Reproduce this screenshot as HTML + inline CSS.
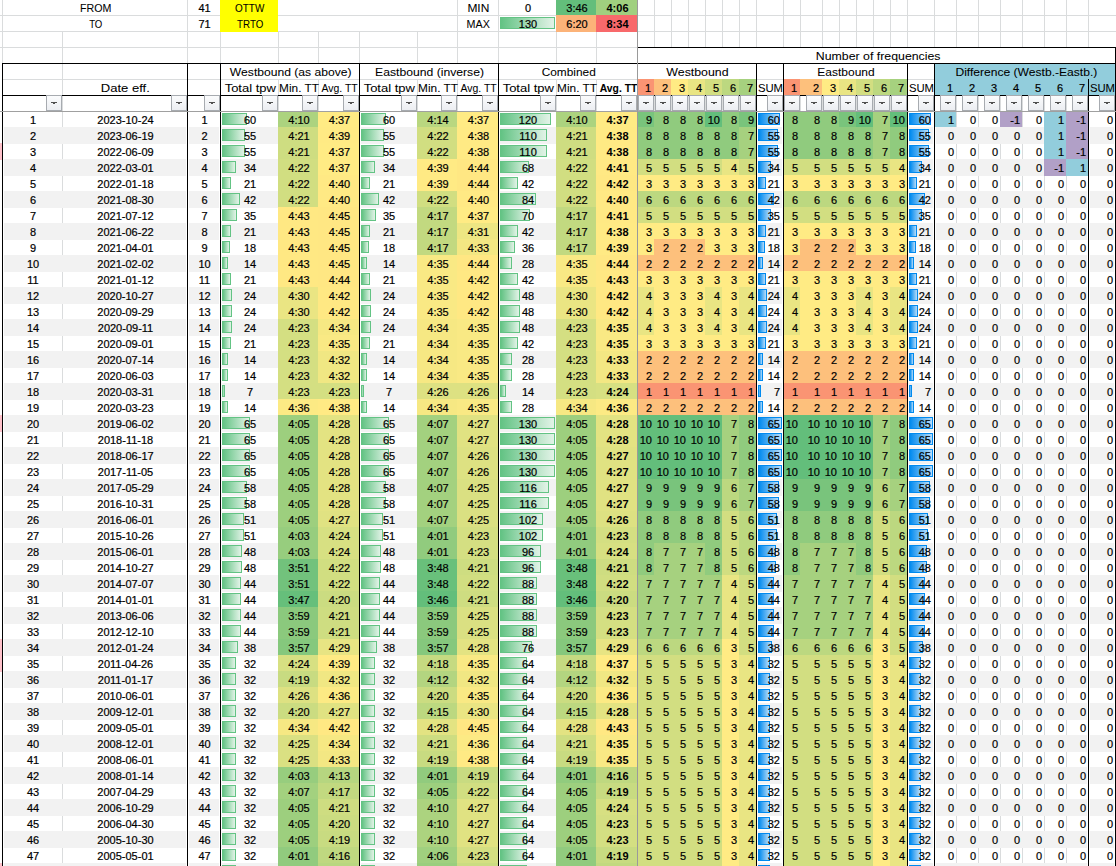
<!DOCTYPE html>
<html><head><meta charset="utf-8"><style>
html,body{margin:0;padding:0}
body{width:1116px;height:866px;overflow:hidden;position:relative;background:#fff;font-family:"Liberation Sans",sans-serif;font-size:11px;color:#000;-webkit-text-stroke:0.2px #000}
u{position:absolute;display:block}
.w{position:absolute;left:0;width:1116px;height:16px}
.w i{position:absolute;top:0;height:17px;line-height:19px;text-align:center;white-space:nowrap;font-style:normal;padding-left:2px;box-sizing:border-box}
.w i.rt{text-align:right;padding-right:2px;padding-left:0;box-sizing:border-box}
.w i.rt3{text-align:right;padding-right:3px;padding-left:0;box-sizing:border-box}
.w i.rtw{text-align:right;padding-right:0px;padding-left:0;box-sizing:border-box}
.w i.rtw s{transform-origin:100% 50%}
.bd{font-weight:bold;-webkit-text-stroke:0}
.k0{background:#f2f2f2}
.k1{background:linear-gradient(90deg,#fff 2px,#f2f2f2 2px)}
.k2{background:linear-gradient(90deg,#f2f2f2 calc(100% - 1px),#fff 0)}
.k3{background:linear-gradient(90deg,#fff 2px,#f2f2f2 2px,#f2f2f2 calc(100% - 1px),#fff 0)}
.w s{position:relative;text-decoration:none}
.w s.wd{display:inline-block;font-size:11.3px;transform-origin:50% 50%;-webkit-text-stroke:0.05px #000}
.w b{position:absolute;left:2px;top:2px;height:12px;box-sizing:border-box}
.w b.g{border:1px solid #63c384;background:linear-gradient(90deg,#63c384,#e2f3e7)}
.w b.bl{border:1px solid #008aef;background:linear-gradient(90deg,#008aef,#b8dcf8)}
p{position:absolute;margin:0;top:95px;width:16px;height:16px;box-sizing:border-box;border:1px solid #a7abb0;background:linear-gradient(#fbfcfd,#eceef2)}
p em{position:absolute;left:4px;top:6px;width:6px;height:1px;background:#505050}
p em:after{content:"";position:absolute;left:2px;top:1px;width:2px;height:1px;background:#505050}
.A{left:2px;width:60px}.B{left:62px;width:125px}.C{left:187px;width:33px}.D{left:220px;width:58px}.E{left:278px;width:40px}.F{left:318px;width:41px}.G{left:359px;width:58px}.H{left:417px;width:40px}.I{left:457px;width:41px}.J{left:498px;width:58px}.K{left:556px;width:40px}.L{left:596px;width:41px}.M{left:637px;width:17px}.N{left:654px;width:17px}.O{left:671px;width:17px}.P{left:688px;width:17px}.Q{left:705px;width:17px}.R{left:722px;width:17px}.S{left:739px;width:17px}.T{left:756px;width:27px}.U{left:783px;width:17px}.V{left:800px;width:22px}.W{left:822px;width:17px}.X{left:839px;width:17px}.Y{left:856px;width:17px}.Z{left:873px;width:17px}.AA{left:890px;width:17px}.AB{left:907px;width:27px}.AC{left:934px;width:22px}.AD{left:956px;width:22px}.AE{left:978px;width:22px}.AF{left:1000px;width:22px}.AG{left:1022px;width:22px}.AH{left:1044px;width:22px}.AI{left:1066px;width:22px}.AJ{left:1088px;width:27px}
</style></head><body>
<u style="left:0px;top:15px;width:1116px;height:1px;background:#dadcdd"></u><u style="left:0px;top:31px;width:1116px;height:1px;background:#dadcdd"></u><u style="left:0px;top:47px;width:1116px;height:1px;background:#dadcdd"></u><u style="left:0px;top:47px;width:637px;height:1px;background:#dadcdd"></u><u style="left:2px;top:0px;width:1px;height:31px;background:#dadcdd"></u><u style="left:187px;top:0px;width:1px;height:31px;background:#dadcdd"></u><u style="left:220px;top:0px;width:1px;height:31px;background:#dadcdd"></u><u style="left:457px;top:0px;width:1px;height:31px;background:#dadcdd"></u><u style="left:498px;top:0px;width:1px;height:31px;background:#dadcdd"></u><u style="left:556px;top:0px;width:1px;height:31px;background:#dadcdd"></u><u style="left:596px;top:0px;width:1px;height:31px;background:#dadcdd"></u><u style="left:654px;top:0px;width:1px;height:31px;background:#dadcdd"></u><u style="left:671px;top:0px;width:1px;height:31px;background:#dadcdd"></u><u style="left:688px;top:0px;width:1px;height:31px;background:#dadcdd"></u><u style="left:705px;top:0px;width:1px;height:31px;background:#dadcdd"></u><u style="left:722px;top:0px;width:1px;height:31px;background:#dadcdd"></u><u style="left:739px;top:0px;width:1px;height:31px;background:#dadcdd"></u><u style="left:756px;top:0px;width:1px;height:31px;background:#dadcdd"></u><u style="left:783px;top:0px;width:1px;height:31px;background:#dadcdd"></u><u style="left:800px;top:0px;width:1px;height:31px;background:#dadcdd"></u><u style="left:822px;top:0px;width:1px;height:31px;background:#dadcdd"></u><u style="left:839px;top:0px;width:1px;height:31px;background:#dadcdd"></u><u style="left:856px;top:0px;width:1px;height:31px;background:#dadcdd"></u><u style="left:873px;top:0px;width:1px;height:31px;background:#dadcdd"></u><u style="left:890px;top:0px;width:1px;height:31px;background:#dadcdd"></u><u style="left:907px;top:0px;width:1px;height:31px;background:#dadcdd"></u><u style="left:934px;top:0px;width:1px;height:31px;background:#dadcdd"></u><u style="left:956px;top:0px;width:1px;height:31px;background:#dadcdd"></u><u style="left:978px;top:0px;width:1px;height:31px;background:#dadcdd"></u><u style="left:1000px;top:0px;width:1px;height:31px;background:#dadcdd"></u><u style="left:1022px;top:0px;width:1px;height:31px;background:#dadcdd"></u><u style="left:1044px;top:0px;width:1px;height:31px;background:#dadcdd"></u><u style="left:1066px;top:0px;width:1px;height:31px;background:#dadcdd"></u><u style="left:1088px;top:0px;width:1px;height:31px;background:#dadcdd"></u><u style="left:2px;top:31px;width:1px;height:32px;background:#dadcdd"></u><u style="left:62px;top:31px;width:1px;height:32px;background:#dadcdd"></u><u style="left:187px;top:31px;width:1px;height:32px;background:#dadcdd"></u><u style="left:220px;top:31px;width:1px;height:32px;background:#dadcdd"></u><u style="left:278px;top:31px;width:1px;height:32px;background:#dadcdd"></u><u style="left:318px;top:31px;width:1px;height:32px;background:#dadcdd"></u><u style="left:359px;top:31px;width:1px;height:32px;background:#dadcdd"></u><u style="left:417px;top:31px;width:1px;height:32px;background:#dadcdd"></u><u style="left:457px;top:31px;width:1px;height:32px;background:#dadcdd"></u><u style="left:498px;top:31px;width:1px;height:32px;background:#dadcdd"></u><u style="left:556px;top:31px;width:1px;height:32px;background:#dadcdd"></u><u style="left:596px;top:31px;width:1px;height:32px;background:#dadcdd"></u><u style="left:637px;top:31px;width:1px;height:32px;background:#dadcdd"></u><u style="left:654px;top:31px;width:1px;height:16px;background:#dadcdd"></u><u style="left:671px;top:31px;width:1px;height:16px;background:#dadcdd"></u><u style="left:688px;top:31px;width:1px;height:16px;background:#dadcdd"></u><u style="left:705px;top:31px;width:1px;height:16px;background:#dadcdd"></u><u style="left:722px;top:31px;width:1px;height:16px;background:#dadcdd"></u><u style="left:739px;top:31px;width:1px;height:16px;background:#dadcdd"></u><u style="left:756px;top:31px;width:1px;height:16px;background:#dadcdd"></u><u style="left:783px;top:31px;width:1px;height:16px;background:#dadcdd"></u><u style="left:800px;top:31px;width:1px;height:16px;background:#dadcdd"></u><u style="left:822px;top:31px;width:1px;height:16px;background:#dadcdd"></u><u style="left:839px;top:31px;width:1px;height:16px;background:#dadcdd"></u><u style="left:856px;top:31px;width:1px;height:16px;background:#dadcdd"></u><u style="left:873px;top:31px;width:1px;height:16px;background:#dadcdd"></u><u style="left:890px;top:31px;width:1px;height:16px;background:#dadcdd"></u><u style="left:907px;top:31px;width:1px;height:16px;background:#dadcdd"></u><u style="left:934px;top:31px;width:1px;height:16px;background:#dadcdd"></u><u style="left:956px;top:31px;width:1px;height:16px;background:#dadcdd"></u><u style="left:978px;top:31px;width:1px;height:16px;background:#dadcdd"></u><u style="left:1000px;top:31px;width:1px;height:16px;background:#dadcdd"></u><u style="left:1022px;top:31px;width:1px;height:16px;background:#dadcdd"></u><u style="left:1044px;top:31px;width:1px;height:16px;background:#dadcdd"></u><u style="left:1066px;top:31px;width:1px;height:16px;background:#dadcdd"></u><u style="left:1088px;top:31px;width:1px;height:16px;background:#dadcdd"></u><u style="left:3px;top:79px;width:1113px;height:1px;background:#dadcdd"></u><u style="left:2px;top:63px;width:1px;height:803px;background:#dadcdd"></u><u style="left:62px;top:63px;width:1px;height:803px;background:#dadcdd"></u><u style="left:187px;top:63px;width:1px;height:803px;background:#dadcdd"></u><u style="left:220px;top:63px;width:1px;height:803px;background:#dadcdd"></u><u style="left:278px;top:63px;width:1px;height:803px;background:#dadcdd"></u><u style="left:318px;top:63px;width:1px;height:803px;background:#dadcdd"></u><u style="left:359px;top:63px;width:1px;height:803px;background:#dadcdd"></u><u style="left:417px;top:63px;width:1px;height:803px;background:#dadcdd"></u><u style="left:457px;top:63px;width:1px;height:803px;background:#dadcdd"></u><u style="left:498px;top:63px;width:1px;height:803px;background:#dadcdd"></u><u style="left:556px;top:63px;width:1px;height:803px;background:#dadcdd"></u><u style="left:596px;top:63px;width:1px;height:803px;background:#dadcdd"></u><u style="left:637px;top:63px;width:1px;height:803px;background:#dadcdd"></u><u style="left:654px;top:63px;width:1px;height:803px;background:#dadcdd"></u><u style="left:671px;top:63px;width:1px;height:803px;background:#dadcdd"></u><u style="left:688px;top:63px;width:1px;height:803px;background:#dadcdd"></u><u style="left:705px;top:63px;width:1px;height:803px;background:#dadcdd"></u><u style="left:722px;top:63px;width:1px;height:803px;background:#dadcdd"></u><u style="left:739px;top:63px;width:1px;height:803px;background:#dadcdd"></u><u style="left:756px;top:63px;width:1px;height:803px;background:#dadcdd"></u><u style="left:783px;top:63px;width:1px;height:803px;background:#dadcdd"></u><u style="left:800px;top:63px;width:1px;height:803px;background:#dadcdd"></u><u style="left:822px;top:63px;width:1px;height:803px;background:#dadcdd"></u><u style="left:839px;top:63px;width:1px;height:803px;background:#dadcdd"></u><u style="left:856px;top:63px;width:1px;height:803px;background:#dadcdd"></u><u style="left:873px;top:63px;width:1px;height:803px;background:#dadcdd"></u><u style="left:890px;top:63px;width:1px;height:803px;background:#dadcdd"></u><u style="left:907px;top:63px;width:1px;height:803px;background:#dadcdd"></u><u style="left:934px;top:63px;width:1px;height:803px;background:#dadcdd"></u><u style="left:956px;top:63px;width:1px;height:803px;background:#dadcdd"></u><u style="left:978px;top:63px;width:1px;height:803px;background:#dadcdd"></u><u style="left:1000px;top:63px;width:1px;height:803px;background:#dadcdd"></u><u style="left:1022px;top:63px;width:1px;height:803px;background:#dadcdd"></u><u style="left:1044px;top:63px;width:1px;height:803px;background:#dadcdd"></u><u style="left:1066px;top:63px;width:1px;height:803px;background:#dadcdd"></u><u style="left:1088px;top:63px;width:1px;height:803px;background:#dadcdd"></u><u style="left:1115px;top:63px;width:1px;height:803px;background:#dadcdd"></u><u style="left:220px;top:-1px;width:58px;height:33px;background:#ffff00"></u><u style="left:556px;top:-1px;width:40px;height:17px;background:#63be7b"></u><u style="left:556px;top:15px;width:40px;height:17px;background:#fcb379"></u><u style="left:596px;top:-1px;width:41px;height:17px;background:#a0d07f"></u><u style="left:596px;top:15px;width:41px;height:17px;background:#f8696b"></u><u style="left:638px;top:48px;width:477px;height:15px;background:#ffffff"></u><u style="left:220px;top:64px;width:138px;height:15px;background:#ffffff"></u><u style="left:359px;top:64px;width:138px;height:15px;background:#ffffff"></u><u style="left:498px;top:64px;width:138px;height:15px;background:#ffffff"></u><u style="left:637px;top:64px;width:118px;height:15px;background:#ffffff"></u><u style="left:783px;top:64px;width:123px;height:15px;background:#ffffff"></u><u style="left:934px;top:64px;width:181px;height:15px;background:#92cddc"></u><u style="left:637px;top:79px;width:17px;height:17px;background:#fa9473"></u><u style="left:654px;top:79px;width:17px;height:17px;background:#fdc07c"></u><u style="left:671px;top:79px;width:17px;height:17px;background:#ffeb84"></u><u style="left:688px;top:79px;width:17px;height:17px;background:#e9e583"></u><u style="left:705px;top:79px;width:17px;height:17px;background:#d2de81"></u><u style="left:722px;top:79px;width:17px;height:17px;background:#bcd880"></u><u style="left:739px;top:79px;width:17px;height:17px;background:#a6d17f"></u><u style="left:783px;top:79px;width:17px;height:17px;background:#fa9473"></u><u style="left:800px;top:79px;width:22px;height:17px;background:#fdc07c"></u><u style="left:822px;top:79px;width:17px;height:17px;background:#ffeb84"></u><u style="left:839px;top:79px;width:17px;height:17px;background:#e9e583"></u><u style="left:856px;top:79px;width:17px;height:17px;background:#d2de81"></u><u style="left:873px;top:79px;width:17px;height:17px;background:#bcd880"></u><u style="left:890px;top:79px;width:17px;height:17px;background:#a6d17f"></u><u style="left:934px;top:79px;width:181px;height:16px;background:#92cddc"></u>
<div class="w" style="top:111px"><i class="A">1</i><i class="B">2023-10-24</i><i class="C">1</i><i class="D"><b class="g" style="width:25px"></b><s>60</s></i><i class="E" style="background:#acd37f">4:10</i><i class="F" style="background:#ffeb84">4:37</i><i class="G"><b class="g" style="width:25px"></b><s>60</s></i><i class="H" style="background:#b9d780">4:14</i><i class="I" style="background:#ffeb84">4:37</i><i class="J"><b class="g" style="width:51px"></b><s>120</s></i><i class="K" style="background:#acd37f">4:10</i><i class="L bd" style="background:#ffeb84">4:37</i><i class="M rt" style="background:#79c47c">9</i><i class="N rt" style="background:#90cb7e">8</i><i class="O rt" style="background:#90cb7e">8</i><i class="P rt" style="background:#90cb7e">8</i><i class="Q rt" style="background:#63be7b">10</i><i class="R rt" style="background:#90cb7e">8</i><i class="S rt" style="background:#79c47c">9</i><i class="T rt3"><b class="bl" style="width:22px"></b><s>60</s></i><i class="U rt" style="background:#90cb7e">8</i><i class="V rt" style="background:#90cb7e">8</i><i class="W rt" style="background:#90cb7e">8</i><i class="X rt" style="background:#79c47c">9</i><i class="Y rt" style="background:#63be7b">10</i><i class="Z rt" style="background:#a6d17f">7</i><i class="AA rt" style="background:#63be7b">10</i><i class="AB rt3"><b class="bl" style="width:22px"></b><s>60</s></i><i class="AC rt" style="background:#92cddc">1</i><i class="AD rt">0</i><i class="AE rt">0</i><i class="AF rt" style="background:#b1a0c7">-1</i><i class="AG rt">0</i><i class="AH rt" style="background:#92cddc">1</i><i class="AI rt" style="background:#b1a0c7">-1</i><i class="AJ rt">0</i></div><div class="w" style="top:127px"><i class="A k1">2</i><i class="B k2">2023-06-19</i><i class="C k3">2</i><i class="D k1"><b class="g" style="width:23px"></b><s>55</s></i><i class="E" style="background:#cedd81">4:21</i><i class="F" style="background:#ffea84">4:39</i><i class="G k1"><b class="g" style="width:23px"></b><s>55</s></i><i class="H" style="background:#d1de81">4:22</i><i class="I" style="background:#ffea84">4:38</i><i class="J k1"><b class="g" style="width:47px"></b><s>110</s></i><i class="K" style="background:#cedd81">4:21</i><i class="L bd" style="background:#ffea84">4:38</i><i class="M rt" style="background:#90cb7e">8</i><i class="N rt" style="background:#90cb7e">8</i><i class="O rt" style="background:#90cb7e">8</i><i class="P rt" style="background:#90cb7e">8</i><i class="Q rt" style="background:#90cb7e">8</i><i class="R rt" style="background:#90cb7e">8</i><i class="S rt" style="background:#a6d17f">7</i><i class="T rt3 k3"><b class="bl" style="width:20px"></b><s>55</s></i><i class="U rt" style="background:#90cb7e">8</i><i class="V rt" style="background:#90cb7e">8</i><i class="W rt" style="background:#90cb7e">8</i><i class="X rt" style="background:#90cb7e">8</i><i class="Y rt" style="background:#90cb7e">8</i><i class="Z rt" style="background:#a6d17f">7</i><i class="AA rt" style="background:#90cb7e">8</i><i class="AB rt3 k3"><b class="bl" style="width:20px"></b><s>55</s></i><i class="AC rt k1">0</i><i class="AD rt k0">0</i><i class="AE rt k0">0</i><i class="AF rt k0">0</i><i class="AG rt k0">0</i><i class="AH rt" style="background:#92cddc">1</i><i class="AI rt" style="background:#b1a0c7">-1</i><i class="AJ rt k3">0</i></div><div class="w" style="top:143px"><i class="A">3</i><i class="B">2022-06-09</i><i class="C">3</i><i class="D"><b class="g" style="width:23px"></b><s>55</s></i><i class="E" style="background:#cedd81">4:21</i><i class="F" style="background:#ffeb84">4:37</i><i class="G"><b class="g" style="width:23px"></b><s>55</s></i><i class="H" style="background:#d1de81">4:22</i><i class="I" style="background:#ffea84">4:38</i><i class="J"><b class="g" style="width:47px"></b><s>110</s></i><i class="K" style="background:#cedd81">4:21</i><i class="L bd" style="background:#ffea84">4:38</i><i class="M rt" style="background:#90cb7e">8</i><i class="N rt" style="background:#90cb7e">8</i><i class="O rt" style="background:#90cb7e">8</i><i class="P rt" style="background:#90cb7e">8</i><i class="Q rt" style="background:#90cb7e">8</i><i class="R rt" style="background:#90cb7e">8</i><i class="S rt" style="background:#a6d17f">7</i><i class="T rt3"><b class="bl" style="width:20px"></b><s>55</s></i><i class="U rt" style="background:#90cb7e">8</i><i class="V rt" style="background:#90cb7e">8</i><i class="W rt" style="background:#90cb7e">8</i><i class="X rt" style="background:#90cb7e">8</i><i class="Y rt" style="background:#90cb7e">8</i><i class="Z rt" style="background:#a6d17f">7</i><i class="AA rt" style="background:#90cb7e">8</i><i class="AB rt3"><b class="bl" style="width:20px"></b><s>55</s></i><i class="AC rt">0</i><i class="AD rt">0</i><i class="AE rt">0</i><i class="AF rt">0</i><i class="AG rt">0</i><i class="AH rt" style="background:#92cddc">1</i><i class="AI rt" style="background:#b1a0c7">-1</i><i class="AJ rt">0</i></div><div class="w" style="top:159px"><i class="A k1">4</i><i class="B k2">2022-03-01</i><i class="C k3">4</i><i class="D k1"><b class="g" style="width:14px"></b><s>34</s></i><i class="E" style="background:#d1de81">4:22</i><i class="F" style="background:#ffeb84">4:37</i><i class="G k1"><b class="g" style="width:14px"></b><s>34</s></i><i class="H" style="background:#ffea84">4:39</i><i class="I" style="background:#ffe783">4:44</i><i class="J k1"><b class="g" style="width:29px"></b><s>68</s></i><i class="K" style="background:#d1de81">4:22</i><i class="L bd" style="background:#ffe984">4:41</i><i class="M rt" style="background:#d2de81">5</i><i class="N rt" style="background:#d2de81">5</i><i class="O rt" style="background:#d2de81">5</i><i class="P rt" style="background:#d2de81">5</i><i class="Q rt" style="background:#d2de81">5</i><i class="R rt" style="background:#e9e583">4</i><i class="S rt" style="background:#d2de81">5</i><i class="T rt3 k3"><b class="bl" style="width:13px"></b><s>34</s></i><i class="U rt" style="background:#d2de81">5</i><i class="V rt" style="background:#d2de81">5</i><i class="W rt" style="background:#d2de81">5</i><i class="X rt" style="background:#d2de81">5</i><i class="Y rt" style="background:#d2de81">5</i><i class="Z rt" style="background:#d2de81">5</i><i class="AA rt" style="background:#e9e583">4</i><i class="AB rt3 k3"><b class="bl" style="width:13px"></b><s>34</s></i><i class="AC rt k1">0</i><i class="AD rt k0">0</i><i class="AE rt k0">0</i><i class="AF rt k0">0</i><i class="AG rt k0">0</i><i class="AH rt" style="background:#b1a0c7">-1</i><i class="AI rt" style="background:#92cddc">1</i><i class="AJ rt k3">0</i></div><div class="w" style="top:175px"><i class="A">5</i><i class="B">2022-01-18</i><i class="C">5</i><i class="D"><b class="g" style="width:9px"></b><s>21</s></i><i class="E" style="background:#d1de81">4:22</i><i class="F" style="background:#ffe984">4:40</i><i class="G"><b class="g" style="width:9px"></b><s>21</s></i><i class="H" style="background:#ffea84">4:39</i><i class="I" style="background:#ffe783">4:44</i><i class="J"><b class="g" style="width:18px"></b><s>42</s></i><i class="K" style="background:#d1de81">4:22</i><i class="L bd" style="background:#ffe883">4:42</i><i class="M rt" style="background:#ffeb84">3</i><i class="N rt" style="background:#ffeb84">3</i><i class="O rt" style="background:#ffeb84">3</i><i class="P rt" style="background:#ffeb84">3</i><i class="Q rt" style="background:#ffeb84">3</i><i class="R rt" style="background:#ffeb84">3</i><i class="S rt" style="background:#ffeb84">3</i><i class="T rt3"><b class="bl" style="width:8px"></b><s>21</s></i><i class="U rt" style="background:#ffeb84">3</i><i class="V rt" style="background:#ffeb84">3</i><i class="W rt" style="background:#ffeb84">3</i><i class="X rt" style="background:#ffeb84">3</i><i class="Y rt" style="background:#ffeb84">3</i><i class="Z rt" style="background:#ffeb84">3</i><i class="AA rt" style="background:#ffeb84">3</i><i class="AB rt3"><b class="bl" style="width:8px"></b><s>21</s></i><i class="AC rt">0</i><i class="AD rt">0</i><i class="AE rt">0</i><i class="AF rt">0</i><i class="AG rt">0</i><i class="AH rt">0</i><i class="AI rt">0</i><i class="AJ rt">0</i></div><div class="w" style="top:191px"><i class="A k1">6</i><i class="B k2">2021-08-30</i><i class="C k3">6</i><i class="D k1"><b class="g" style="width:18px"></b><s>42</s></i><i class="E" style="background:#d1de81">4:22</i><i class="F" style="background:#ffe984">4:40</i><i class="G k1"><b class="g" style="width:18px"></b><s>42</s></i><i class="H" style="background:#d1de81">4:22</i><i class="I" style="background:#ffe984">4:40</i><i class="J k1"><b class="g" style="width:36px"></b><s>84</s></i><i class="K" style="background:#d1de81">4:22</i><i class="L bd" style="background:#ffe984">4:40</i><i class="M rt" style="background:#bcd880">6</i><i class="N rt" style="background:#bcd880">6</i><i class="O rt" style="background:#bcd880">6</i><i class="P rt" style="background:#bcd880">6</i><i class="Q rt" style="background:#bcd880">6</i><i class="R rt" style="background:#bcd880">6</i><i class="S rt" style="background:#bcd880">6</i><i class="T rt3 k3"><b class="bl" style="width:16px"></b><s>42</s></i><i class="U rt" style="background:#bcd880">6</i><i class="V rt" style="background:#bcd880">6</i><i class="W rt" style="background:#bcd880">6</i><i class="X rt" style="background:#bcd880">6</i><i class="Y rt" style="background:#bcd880">6</i><i class="Z rt" style="background:#bcd880">6</i><i class="AA rt" style="background:#bcd880">6</i><i class="AB rt3 k3"><b class="bl" style="width:16px"></b><s>42</s></i><i class="AC rt k1">0</i><i class="AD rt k0">0</i><i class="AE rt k0">0</i><i class="AF rt k0">0</i><i class="AG rt k0">0</i><i class="AH rt k0">0</i><i class="AI rt k2">0</i><i class="AJ rt k3">0</i></div><div class="w" style="top:207px"><i class="A">7</i><i class="B">2021-07-12</i><i class="C">7</i><i class="D"><b class="g" style="width:15px"></b><s>35</s></i><i class="E" style="background:#ffe883">4:43</i><i class="F" style="background:#ffe783">4:45</i><i class="G"><b class="g" style="width:15px"></b><s>35</s></i><i class="H" style="background:#c2d980">4:17</i><i class="I" style="background:#ffeb84">4:37</i><i class="J"><b class="g" style="width:30px"></b><s>70</s></i><i class="K" style="background:#c2d980">4:17</i><i class="L bd" style="background:#ffe984">4:41</i><i class="M rt" style="background:#d2de81">5</i><i class="N rt" style="background:#d2de81">5</i><i class="O rt" style="background:#d2de81">5</i><i class="P rt" style="background:#d2de81">5</i><i class="Q rt" style="background:#d2de81">5</i><i class="R rt" style="background:#d2de81">5</i><i class="S rt" style="background:#d2de81">5</i><i class="T rt3"><b class="bl" style="width:13px"></b><s>35</s></i><i class="U rt" style="background:#d2de81">5</i><i class="V rt" style="background:#d2de81">5</i><i class="W rt" style="background:#d2de81">5</i><i class="X rt" style="background:#d2de81">5</i><i class="Y rt" style="background:#d2de81">5</i><i class="Z rt" style="background:#d2de81">5</i><i class="AA rt" style="background:#d2de81">5</i><i class="AB rt3"><b class="bl" style="width:13px"></b><s>35</s></i><i class="AC rt">0</i><i class="AD rt">0</i><i class="AE rt">0</i><i class="AF rt">0</i><i class="AG rt">0</i><i class="AH rt">0</i><i class="AI rt">0</i><i class="AJ rt">0</i></div><div class="w" style="top:223px"><i class="A k1">8</i><i class="B k2">2021-06-22</i><i class="C k3">8</i><i class="D k1"><b class="g" style="width:9px"></b><s>21</s></i><i class="E" style="background:#ffe883">4:43</i><i class="F" style="background:#ffe783">4:45</i><i class="G k1"><b class="g" style="width:9px"></b><s>21</s></i><i class="H" style="background:#c2d980">4:17</i><i class="I" style="background:#ede683">4:31</i><i class="J k1"><b class="g" style="width:18px"></b><s>42</s></i><i class="K" style="background:#c2d980">4:17</i><i class="L bd" style="background:#ffea84">4:38</i><i class="M rt" style="background:#ffeb84">3</i><i class="N rt" style="background:#ffeb84">3</i><i class="O rt" style="background:#ffeb84">3</i><i class="P rt" style="background:#ffeb84">3</i><i class="Q rt" style="background:#ffeb84">3</i><i class="R rt" style="background:#ffeb84">3</i><i class="S rt" style="background:#ffeb84">3</i><i class="T rt3 k3"><b class="bl" style="width:8px"></b><s>21</s></i><i class="U rt" style="background:#ffeb84">3</i><i class="V rt" style="background:#ffeb84">3</i><i class="W rt" style="background:#ffeb84">3</i><i class="X rt" style="background:#ffeb84">3</i><i class="Y rt" style="background:#ffeb84">3</i><i class="Z rt" style="background:#ffeb84">3</i><i class="AA rt" style="background:#ffeb84">3</i><i class="AB rt3 k3"><b class="bl" style="width:8px"></b><s>21</s></i><i class="AC rt k1">0</i><i class="AD rt k0">0</i><i class="AE rt k0">0</i><i class="AF rt k0">0</i><i class="AG rt k0">0</i><i class="AH rt k0">0</i><i class="AI rt k2">0</i><i class="AJ rt k3">0</i></div><div class="w" style="top:239px"><i class="A">9</i><i class="B">2021-04-01</i><i class="C">9</i><i class="D"><b class="g" style="width:8px"></b><s>18</s></i><i class="E" style="background:#ffe883">4:43</i><i class="F" style="background:#ffe783">4:45</i><i class="G"><b class="g" style="width:8px"></b><s>18</s></i><i class="H" style="background:#c2d980">4:17</i><i class="I" style="background:#f3e783">4:33</i><i class="J"><b class="g" style="width:15px"></b><s>36</s></i><i class="K" style="background:#c2d980">4:17</i><i class="L bd" style="background:#ffea84">4:39</i><i class="M rt" style="background:#ffeb84">3</i><i class="N rt" style="background:#fdc07c">2</i><i class="O rt" style="background:#fdc07c">2</i><i class="P rt" style="background:#fdc07c">2</i><i class="Q rt" style="background:#ffeb84">3</i><i class="R rt" style="background:#ffeb84">3</i><i class="S rt" style="background:#ffeb84">3</i><i class="T rt3"><b class="bl" style="width:7px"></b><s>18</s></i><i class="U rt" style="background:#ffeb84">3</i><i class="V rt" style="background:#fdc07c">2</i><i class="W rt" style="background:#fdc07c">2</i><i class="X rt" style="background:#fdc07c">2</i><i class="Y rt" style="background:#ffeb84">3</i><i class="Z rt" style="background:#ffeb84">3</i><i class="AA rt" style="background:#ffeb84">3</i><i class="AB rt3"><b class="bl" style="width:7px"></b><s>18</s></i><i class="AC rt">0</i><i class="AD rt">0</i><i class="AE rt">0</i><i class="AF rt">0</i><i class="AG rt">0</i><i class="AH rt">0</i><i class="AI rt">0</i><i class="AJ rt">0</i></div><div class="w" style="top:255px"><i class="A k1">10</i><i class="B k2">2021-02-02</i><i class="C k3">10</i><i class="D k1"><b class="g" style="width:6px"></b><s>14</s></i><i class="E" style="background:#ffe883">4:43</i><i class="F" style="background:#ffe783">4:45</i><i class="G k1"><b class="g" style="width:6px"></b><s>14</s></i><i class="H" style="background:#f9e984">4:35</i><i class="I" style="background:#ffe783">4:44</i><i class="J k1"><b class="g" style="width:12px"></b><s>28</s></i><i class="K" style="background:#f9e984">4:35</i><i class="L bd" style="background:#ffe783">4:44</i><i class="M rt" style="background:#fdc07c">2</i><i class="N rt" style="background:#fdc07c">2</i><i class="O rt" style="background:#fdc07c">2</i><i class="P rt" style="background:#fdc07c">2</i><i class="Q rt" style="background:#fdc07c">2</i><i class="R rt" style="background:#fdc07c">2</i><i class="S rt" style="background:#fdc07c">2</i><i class="T rt3 k3"><b class="bl" style="width:5px"></b><s>14</s></i><i class="U rt" style="background:#fdc07c">2</i><i class="V rt" style="background:#fdc07c">2</i><i class="W rt" style="background:#fdc07c">2</i><i class="X rt" style="background:#fdc07c">2</i><i class="Y rt" style="background:#fdc07c">2</i><i class="Z rt" style="background:#fdc07c">2</i><i class="AA rt" style="background:#fdc07c">2</i><i class="AB rt3 k3"><b class="bl" style="width:5px"></b><s>14</s></i><i class="AC rt k1">0</i><i class="AD rt k0">0</i><i class="AE rt k0">0</i><i class="AF rt k0">0</i><i class="AG rt k0">0</i><i class="AH rt k0">0</i><i class="AI rt k2">0</i><i class="AJ rt k3">0</i></div><div class="w" style="top:271px"><i class="A">11</i><i class="B">2021-01-12</i><i class="C">11</i><i class="D"><b class="g" style="width:9px"></b><s>21</s></i><i class="E" style="background:#ffe883">4:43</i><i class="F" style="background:#ffe783">4:44</i><i class="G"><b class="g" style="width:9px"></b><s>21</s></i><i class="H" style="background:#f9e984">4:35</i><i class="I" style="background:#ffe883">4:42</i><i class="J"><b class="g" style="width:18px"></b><s>42</s></i><i class="K" style="background:#f9e984">4:35</i><i class="L bd" style="background:#ffe883">4:43</i><i class="M rt" style="background:#ffeb84">3</i><i class="N rt" style="background:#ffeb84">3</i><i class="O rt" style="background:#ffeb84">3</i><i class="P rt" style="background:#ffeb84">3</i><i class="Q rt" style="background:#ffeb84">3</i><i class="R rt" style="background:#ffeb84">3</i><i class="S rt" style="background:#ffeb84">3</i><i class="T rt3"><b class="bl" style="width:8px"></b><s>21</s></i><i class="U rt" style="background:#ffeb84">3</i><i class="V rt" style="background:#ffeb84">3</i><i class="W rt" style="background:#ffeb84">3</i><i class="X rt" style="background:#ffeb84">3</i><i class="Y rt" style="background:#ffeb84">3</i><i class="Z rt" style="background:#ffeb84">3</i><i class="AA rt" style="background:#ffeb84">3</i><i class="AB rt3"><b class="bl" style="width:8px"></b><s>21</s></i><i class="AC rt">0</i><i class="AD rt">0</i><i class="AE rt">0</i><i class="AF rt">0</i><i class="AG rt">0</i><i class="AH rt">0</i><i class="AI rt">0</i><i class="AJ rt">0</i></div><div class="w" style="top:287px"><i class="A k1">12</i><i class="B k2">2020-10-27</i><i class="C k3">12</i><i class="D k1"><b class="g" style="width:10px"></b><s>24</s></i><i class="E" style="background:#eae583">4:30</i><i class="F" style="background:#ffe883">4:42</i><i class="G k1"><b class="g" style="width:10px"></b><s>24</s></i><i class="H" style="background:#f9e984">4:35</i><i class="I" style="background:#ffe883">4:42</i><i class="J k1"><b class="g" style="width:20px"></b><s>48</s></i><i class="K" style="background:#eae583">4:30</i><i class="L bd" style="background:#ffe883">4:42</i><i class="M rt" style="background:#e9e583">4</i><i class="N rt" style="background:#ffeb84">3</i><i class="O rt" style="background:#ffeb84">3</i><i class="P rt" style="background:#ffeb84">3</i><i class="Q rt" style="background:#e9e583">4</i><i class="R rt" style="background:#ffeb84">3</i><i class="S rt" style="background:#e9e583">4</i><i class="T rt3 k3"><b class="bl" style="width:9px"></b><s>24</s></i><i class="U rt" style="background:#e9e583">4</i><i class="V rt" style="background:#ffeb84">3</i><i class="W rt" style="background:#ffeb84">3</i><i class="X rt" style="background:#ffeb84">3</i><i class="Y rt" style="background:#e9e583">4</i><i class="Z rt" style="background:#ffeb84">3</i><i class="AA rt" style="background:#e9e583">4</i><i class="AB rt3 k3"><b class="bl" style="width:9px"></b><s>24</s></i><i class="AC rt k1">0</i><i class="AD rt k0">0</i><i class="AE rt k0">0</i><i class="AF rt k0">0</i><i class="AG rt k0">0</i><i class="AH rt k0">0</i><i class="AI rt k2">0</i><i class="AJ rt k3">0</i></div><div class="w" style="top:303px"><i class="A">13</i><i class="B">2020-09-29</i><i class="C">13</i><i class="D"><b class="g" style="width:10px"></b><s>24</s></i><i class="E" style="background:#eae583">4:30</i><i class="F" style="background:#ffe883">4:42</i><i class="G"><b class="g" style="width:10px"></b><s>24</s></i><i class="H" style="background:#f9e984">4:35</i><i class="I" style="background:#ffe883">4:42</i><i class="J"><b class="g" style="width:20px"></b><s>48</s></i><i class="K" style="background:#eae583">4:30</i><i class="L bd" style="background:#ffe883">4:42</i><i class="M rt" style="background:#e9e583">4</i><i class="N rt" style="background:#ffeb84">3</i><i class="O rt" style="background:#ffeb84">3</i><i class="P rt" style="background:#ffeb84">3</i><i class="Q rt" style="background:#e9e583">4</i><i class="R rt" style="background:#ffeb84">3</i><i class="S rt" style="background:#e9e583">4</i><i class="T rt3"><b class="bl" style="width:9px"></b><s>24</s></i><i class="U rt" style="background:#e9e583">4</i><i class="V rt" style="background:#ffeb84">3</i><i class="W rt" style="background:#ffeb84">3</i><i class="X rt" style="background:#ffeb84">3</i><i class="Y rt" style="background:#e9e583">4</i><i class="Z rt" style="background:#ffeb84">3</i><i class="AA rt" style="background:#e9e583">4</i><i class="AB rt3"><b class="bl" style="width:9px"></b><s>24</s></i><i class="AC rt">0</i><i class="AD rt">0</i><i class="AE rt">0</i><i class="AF rt">0</i><i class="AG rt">0</i><i class="AH rt">0</i><i class="AI rt">0</i><i class="AJ rt">0</i></div><div class="w" style="top:319px"><i class="A k1">14</i><i class="B k2">2020-09-11</i><i class="C k3">14</i><i class="D k1"><b class="g" style="width:10px"></b><s>24</s></i><i class="E" style="background:#d4df82">4:23</i><i class="F" style="background:#f6e883">4:34</i><i class="G k1"><b class="g" style="width:10px"></b><s>24</s></i><i class="H" style="background:#f6e883">4:34</i><i class="I" style="background:#f9e984">4:35</i><i class="J k1"><b class="g" style="width:20px"></b><s>48</s></i><i class="K" style="background:#d4df82">4:23</i><i class="L bd" style="background:#f9e984">4:35</i><i class="M rt" style="background:#e9e583">4</i><i class="N rt" style="background:#ffeb84">3</i><i class="O rt" style="background:#ffeb84">3</i><i class="P rt" style="background:#ffeb84">3</i><i class="Q rt" style="background:#e9e583">4</i><i class="R rt" style="background:#ffeb84">3</i><i class="S rt" style="background:#e9e583">4</i><i class="T rt3 k3"><b class="bl" style="width:9px"></b><s>24</s></i><i class="U rt" style="background:#e9e583">4</i><i class="V rt" style="background:#ffeb84">3</i><i class="W rt" style="background:#ffeb84">3</i><i class="X rt" style="background:#ffeb84">3</i><i class="Y rt" style="background:#e9e583">4</i><i class="Z rt" style="background:#ffeb84">3</i><i class="AA rt" style="background:#e9e583">4</i><i class="AB rt3 k3"><b class="bl" style="width:9px"></b><s>24</s></i><i class="AC rt k1">0</i><i class="AD rt k0">0</i><i class="AE rt k0">0</i><i class="AF rt k0">0</i><i class="AG rt k0">0</i><i class="AH rt k0">0</i><i class="AI rt k2">0</i><i class="AJ rt k3">0</i></div><div class="w" style="top:335px"><i class="A">15</i><i class="B">2020-09-01</i><i class="C">15</i><i class="D"><b class="g" style="width:9px"></b><s>21</s></i><i class="E" style="background:#d4df82">4:23</i><i class="F" style="background:#f9e984">4:35</i><i class="G"><b class="g" style="width:9px"></b><s>21</s></i><i class="H" style="background:#f6e883">4:34</i><i class="I" style="background:#f9e984">4:35</i><i class="J"><b class="g" style="width:18px"></b><s>42</s></i><i class="K" style="background:#d4df82">4:23</i><i class="L bd" style="background:#f9e984">4:35</i><i class="M rt" style="background:#ffeb84">3</i><i class="N rt" style="background:#ffeb84">3</i><i class="O rt" style="background:#ffeb84">3</i><i class="P rt" style="background:#ffeb84">3</i><i class="Q rt" style="background:#ffeb84">3</i><i class="R rt" style="background:#ffeb84">3</i><i class="S rt" style="background:#ffeb84">3</i><i class="T rt3"><b class="bl" style="width:8px"></b><s>21</s></i><i class="U rt" style="background:#ffeb84">3</i><i class="V rt" style="background:#ffeb84">3</i><i class="W rt" style="background:#ffeb84">3</i><i class="X rt" style="background:#ffeb84">3</i><i class="Y rt" style="background:#ffeb84">3</i><i class="Z rt" style="background:#ffeb84">3</i><i class="AA rt" style="background:#ffeb84">3</i><i class="AB rt3"><b class="bl" style="width:8px"></b><s>21</s></i><i class="AC rt">0</i><i class="AD rt">0</i><i class="AE rt">0</i><i class="AF rt">0</i><i class="AG rt">0</i><i class="AH rt">0</i><i class="AI rt">0</i><i class="AJ rt">0</i></div><div class="w" style="top:351px"><i class="A k1">16</i><i class="B k2">2020-07-14</i><i class="C k3">16</i><i class="D k1"><b class="g" style="width:6px"></b><s>14</s></i><i class="E" style="background:#d4df82">4:23</i><i class="F" style="background:#f0e783">4:32</i><i class="G k1"><b class="g" style="width:6px"></b><s>14</s></i><i class="H" style="background:#f6e883">4:34</i><i class="I" style="background:#f9e984">4:35</i><i class="J k1"><b class="g" style="width:12px"></b><s>28</s></i><i class="K" style="background:#d4df82">4:23</i><i class="L bd" style="background:#f3e783">4:33</i><i class="M rt" style="background:#fdc07c">2</i><i class="N rt" style="background:#fdc07c">2</i><i class="O rt" style="background:#fdc07c">2</i><i class="P rt" style="background:#fdc07c">2</i><i class="Q rt" style="background:#fdc07c">2</i><i class="R rt" style="background:#fdc07c">2</i><i class="S rt" style="background:#fdc07c">2</i><i class="T rt3 k3"><b class="bl" style="width:5px"></b><s>14</s></i><i class="U rt" style="background:#fdc07c">2</i><i class="V rt" style="background:#fdc07c">2</i><i class="W rt" style="background:#fdc07c">2</i><i class="X rt" style="background:#fdc07c">2</i><i class="Y rt" style="background:#fdc07c">2</i><i class="Z rt" style="background:#fdc07c">2</i><i class="AA rt" style="background:#fdc07c">2</i><i class="AB rt3 k3"><b class="bl" style="width:5px"></b><s>14</s></i><i class="AC rt k1">0</i><i class="AD rt k0">0</i><i class="AE rt k0">0</i><i class="AF rt k0">0</i><i class="AG rt k0">0</i><i class="AH rt k0">0</i><i class="AI rt k2">0</i><i class="AJ rt k3">0</i></div><div class="w" style="top:367px"><i class="A">17</i><i class="B">2020-06-03</i><i class="C">17</i><i class="D"><b class="g" style="width:6px"></b><s>14</s></i><i class="E" style="background:#d4df82">4:23</i><i class="F" style="background:#f0e783">4:32</i><i class="G"><b class="g" style="width:6px"></b><s>14</s></i><i class="H" style="background:#f6e883">4:34</i><i class="I" style="background:#f9e984">4:35</i><i class="J"><b class="g" style="width:12px"></b><s>28</s></i><i class="K" style="background:#d4df82">4:23</i><i class="L bd" style="background:#f3e783">4:33</i><i class="M rt" style="background:#fdc07c">2</i><i class="N rt" style="background:#fdc07c">2</i><i class="O rt" style="background:#fdc07c">2</i><i class="P rt" style="background:#fdc07c">2</i><i class="Q rt" style="background:#fdc07c">2</i><i class="R rt" style="background:#fdc07c">2</i><i class="S rt" style="background:#fdc07c">2</i><i class="T rt3"><b class="bl" style="width:5px"></b><s>14</s></i><i class="U rt" style="background:#fdc07c">2</i><i class="V rt" style="background:#fdc07c">2</i><i class="W rt" style="background:#fdc07c">2</i><i class="X rt" style="background:#fdc07c">2</i><i class="Y rt" style="background:#fdc07c">2</i><i class="Z rt" style="background:#fdc07c">2</i><i class="AA rt" style="background:#fdc07c">2</i><i class="AB rt3"><b class="bl" style="width:5px"></b><s>14</s></i><i class="AC rt">0</i><i class="AD rt">0</i><i class="AE rt">0</i><i class="AF rt">0</i><i class="AG rt">0</i><i class="AH rt">0</i><i class="AI rt">0</i><i class="AJ rt">0</i></div><div class="w" style="top:383px"><i class="A k1">18</i><i class="B k2">2020-03-31</i><i class="C k3">18</i><i class="D k1"><b class="g" style="width:3px"></b><s>7</s></i><i class="E" style="background:#d4df82">4:23</i><i class="F" style="background:#d4df82">4:23</i><i class="G k1"><b class="g" style="width:3px"></b><s>7</s></i><i class="H" style="background:#dde182">4:26</i><i class="I" style="background:#dde182">4:26</i><i class="J k1"><b class="g" style="width:6px"></b><s>14</s></i><i class="K" style="background:#d4df82">4:23</i><i class="L bd" style="background:#d7e082">4:24</i><i class="M rt" style="background:#fa9473">1</i><i class="N rt" style="background:#fa9473">1</i><i class="O rt" style="background:#fa9473">1</i><i class="P rt" style="background:#fa9473">1</i><i class="Q rt" style="background:#fa9473">1</i><i class="R rt" style="background:#fa9473">1</i><i class="S rt" style="background:#fa9473">1</i><i class="T rt3 k3"><b class="bl" style="width:3px"></b><s>7</s></i><i class="U rt" style="background:#fa9473">1</i><i class="V rt" style="background:#fa9473">1</i><i class="W rt" style="background:#fa9473">1</i><i class="X rt" style="background:#fa9473">1</i><i class="Y rt" style="background:#fa9473">1</i><i class="Z rt" style="background:#fa9473">1</i><i class="AA rt" style="background:#fa9473">1</i><i class="AB rt3 k3"><b class="bl" style="width:3px"></b><s>7</s></i><i class="AC rt k1">0</i><i class="AD rt k0">0</i><i class="AE rt k0">0</i><i class="AF rt k0">0</i><i class="AG rt k0">0</i><i class="AH rt k0">0</i><i class="AI rt k2">0</i><i class="AJ rt k3">0</i></div><div class="w" style="top:399px"><i class="A">19</i><i class="B">2020-03-23</i><i class="C">19</i><i class="D"><b class="g" style="width:6px"></b><s>14</s></i><i class="E" style="background:#fcea84">4:36</i><i class="F" style="background:#ffea84">4:38</i><i class="G"><b class="g" style="width:6px"></b><s>14</s></i><i class="H" style="background:#f6e883">4:34</i><i class="I" style="background:#f9e984">4:35</i><i class="J"><b class="g" style="width:12px"></b><s>28</s></i><i class="K" style="background:#f6e883">4:34</i><i class="L bd" style="background:#fcea84">4:36</i><i class="M rt" style="background:#fdc07c">2</i><i class="N rt" style="background:#fdc07c">2</i><i class="O rt" style="background:#fdc07c">2</i><i class="P rt" style="background:#fdc07c">2</i><i class="Q rt" style="background:#fdc07c">2</i><i class="R rt" style="background:#fdc07c">2</i><i class="S rt" style="background:#fdc07c">2</i><i class="T rt3"><b class="bl" style="width:5px"></b><s>14</s></i><i class="U rt" style="background:#fdc07c">2</i><i class="V rt" style="background:#fdc07c">2</i><i class="W rt" style="background:#fdc07c">2</i><i class="X rt" style="background:#fdc07c">2</i><i class="Y rt" style="background:#fdc07c">2</i><i class="Z rt" style="background:#fdc07c">2</i><i class="AA rt" style="background:#fdc07c">2</i><i class="AB rt3"><b class="bl" style="width:5px"></b><s>14</s></i><i class="AC rt">0</i><i class="AD rt">0</i><i class="AE rt">0</i><i class="AF rt">0</i><i class="AG rt">0</i><i class="AH rt">0</i><i class="AI rt">0</i><i class="AJ rt">0</i></div><div class="w" style="top:415px"><i class="A k1">20</i><i class="B k2">2019-06-02</i><i class="C k3">20</i><i class="D k1"><b class="g" style="width:28px"></b><s>65</s></i><i class="E" style="background:#9dcf7e">4:05</i><i class="F" style="background:#e3e382">4:28</i><i class="G k1"><b class="g" style="width:28px"></b><s>65</s></i><i class="H" style="background:#a3d17f">4:07</i><i class="I" style="background:#e0e282">4:27</i><i class="J k1"><b class="g" style="width:55px"></b><s>130</s></i><i class="K" style="background:#9dcf7e">4:05</i><i class="L bd" style="background:#e3e382">4:28</i><i class="M rt" style="background:#63be7b">10</i><i class="N rt" style="background:#63be7b">10</i><i class="O rt" style="background:#63be7b">10</i><i class="P rt" style="background:#63be7b">10</i><i class="Q rt" style="background:#63be7b">10</i><i class="R rt" style="background:#a6d17f">7</i><i class="S rt" style="background:#90cb7e">8</i><i class="T rt3 k3"><b class="bl" style="width:24px"></b><s>65</s></i><i class="U rt" style="background:#63be7b">10</i><i class="V rt" style="background:#63be7b">10</i><i class="W rt" style="background:#63be7b">10</i><i class="X rt" style="background:#63be7b">10</i><i class="Y rt" style="background:#63be7b">10</i><i class="Z rt" style="background:#a6d17f">7</i><i class="AA rt" style="background:#90cb7e">8</i><i class="AB rt3 k3"><b class="bl" style="width:24px"></b><s>65</s></i><i class="AC rt k1">0</i><i class="AD rt k0">0</i><i class="AE rt k0">0</i><i class="AF rt k0">0</i><i class="AG rt k0">0</i><i class="AH rt k0">0</i><i class="AI rt k2">0</i><i class="AJ rt k3">0</i></div><div class="w" style="top:431px"><i class="A">21</i><i class="B">2018-11-18</i><i class="C">21</i><i class="D"><b class="g" style="width:28px"></b><s>65</s></i><i class="E" style="background:#9dcf7e">4:05</i><i class="F" style="background:#e3e382">4:28</i><i class="G"><b class="g" style="width:28px"></b><s>65</s></i><i class="H" style="background:#a3d17f">4:07</i><i class="I" style="background:#e0e282">4:27</i><i class="J"><b class="g" style="width:55px"></b><s>130</s></i><i class="K" style="background:#9dcf7e">4:05</i><i class="L bd" style="background:#e3e382">4:28</i><i class="M rt" style="background:#63be7b">10</i><i class="N rt" style="background:#63be7b">10</i><i class="O rt" style="background:#63be7b">10</i><i class="P rt" style="background:#63be7b">10</i><i class="Q rt" style="background:#63be7b">10</i><i class="R rt" style="background:#a6d17f">7</i><i class="S rt" style="background:#90cb7e">8</i><i class="T rt3"><b class="bl" style="width:24px"></b><s>65</s></i><i class="U rt" style="background:#63be7b">10</i><i class="V rt" style="background:#63be7b">10</i><i class="W rt" style="background:#63be7b">10</i><i class="X rt" style="background:#63be7b">10</i><i class="Y rt" style="background:#63be7b">10</i><i class="Z rt" style="background:#a6d17f">7</i><i class="AA rt" style="background:#90cb7e">8</i><i class="AB rt3"><b class="bl" style="width:24px"></b><s>65</s></i><i class="AC rt">0</i><i class="AD rt">0</i><i class="AE rt">0</i><i class="AF rt">0</i><i class="AG rt">0</i><i class="AH rt">0</i><i class="AI rt">0</i><i class="AJ rt">0</i></div><div class="w" style="top:447px"><i class="A k1">22</i><i class="B k2">2018-06-17</i><i class="C k3">22</i><i class="D k1"><b class="g" style="width:28px"></b><s>65</s></i><i class="E" style="background:#9dcf7e">4:05</i><i class="F" style="background:#e3e382">4:28</i><i class="G k1"><b class="g" style="width:28px"></b><s>65</s></i><i class="H" style="background:#a3d17f">4:07</i><i class="I" style="background:#dde182">4:26</i><i class="J k1"><b class="g" style="width:55px"></b><s>130</s></i><i class="K" style="background:#9dcf7e">4:05</i><i class="L bd" style="background:#e0e282">4:27</i><i class="M rt" style="background:#63be7b">10</i><i class="N rt" style="background:#63be7b">10</i><i class="O rt" style="background:#63be7b">10</i><i class="P rt" style="background:#63be7b">10</i><i class="Q rt" style="background:#63be7b">10</i><i class="R rt" style="background:#a6d17f">7</i><i class="S rt" style="background:#90cb7e">8</i><i class="T rt3 k3"><b class="bl" style="width:24px"></b><s>65</s></i><i class="U rt" style="background:#63be7b">10</i><i class="V rt" style="background:#63be7b">10</i><i class="W rt" style="background:#63be7b">10</i><i class="X rt" style="background:#63be7b">10</i><i class="Y rt" style="background:#63be7b">10</i><i class="Z rt" style="background:#a6d17f">7</i><i class="AA rt" style="background:#90cb7e">8</i><i class="AB rt3 k3"><b class="bl" style="width:24px"></b><s>65</s></i><i class="AC rt k1">0</i><i class="AD rt k0">0</i><i class="AE rt k0">0</i><i class="AF rt k0">0</i><i class="AG rt k0">0</i><i class="AH rt k0">0</i><i class="AI rt k2">0</i><i class="AJ rt k3">0</i></div><div class="w" style="top:463px"><i class="A">23</i><i class="B">2017-11-05</i><i class="C">23</i><i class="D"><b class="g" style="width:28px"></b><s>65</s></i><i class="E" style="background:#9dcf7e">4:05</i><i class="F" style="background:#e3e382">4:28</i><i class="G"><b class="g" style="width:28px"></b><s>65</s></i><i class="H" style="background:#a3d17f">4:07</i><i class="I" style="background:#dde182">4:26</i><i class="J"><b class="g" style="width:55px"></b><s>130</s></i><i class="K" style="background:#9dcf7e">4:05</i><i class="L bd" style="background:#e0e282">4:27</i><i class="M rt" style="background:#63be7b">10</i><i class="N rt" style="background:#63be7b">10</i><i class="O rt" style="background:#63be7b">10</i><i class="P rt" style="background:#63be7b">10</i><i class="Q rt" style="background:#63be7b">10</i><i class="R rt" style="background:#a6d17f">7</i><i class="S rt" style="background:#90cb7e">8</i><i class="T rt3"><b class="bl" style="width:24px"></b><s>65</s></i><i class="U rt" style="background:#63be7b">10</i><i class="V rt" style="background:#63be7b">10</i><i class="W rt" style="background:#63be7b">10</i><i class="X rt" style="background:#63be7b">10</i><i class="Y rt" style="background:#63be7b">10</i><i class="Z rt" style="background:#a6d17f">7</i><i class="AA rt" style="background:#90cb7e">8</i><i class="AB rt3"><b class="bl" style="width:24px"></b><s>65</s></i><i class="AC rt">0</i><i class="AD rt">0</i><i class="AE rt">0</i><i class="AF rt">0</i><i class="AG rt">0</i><i class="AH rt">0</i><i class="AI rt">0</i><i class="AJ rt">0</i></div><div class="w" style="top:479px"><i class="A k1">24</i><i class="B k2">2017-05-29</i><i class="C k3">24</i><i class="D k1"><b class="g" style="width:25px"></b><s>58</s></i><i class="E" style="background:#9dcf7e">4:05</i><i class="F" style="background:#e3e382">4:28</i><i class="G k1"><b class="g" style="width:25px"></b><s>58</s></i><i class="H" style="background:#a3d17f">4:07</i><i class="I" style="background:#dae082">4:25</i><i class="J k1"><b class="g" style="width:49px"></b><s>116</s></i><i class="K" style="background:#9dcf7e">4:05</i><i class="L bd" style="background:#e0e282">4:27</i><i class="M rt" style="background:#79c47c">9</i><i class="N rt" style="background:#79c47c">9</i><i class="O rt" style="background:#79c47c">9</i><i class="P rt" style="background:#79c47c">9</i><i class="Q rt" style="background:#79c47c">9</i><i class="R rt" style="background:#bcd880">6</i><i class="S rt" style="background:#a6d17f">7</i><i class="T rt3 k3"><b class="bl" style="width:21px"></b><s>58</s></i><i class="U rt" style="background:#79c47c">9</i><i class="V rt" style="background:#79c47c">9</i><i class="W rt" style="background:#79c47c">9</i><i class="X rt" style="background:#79c47c">9</i><i class="Y rt" style="background:#79c47c">9</i><i class="Z rt" style="background:#bcd880">6</i><i class="AA rt" style="background:#a6d17f">7</i><i class="AB rt3 k3"><b class="bl" style="width:21px"></b><s>58</s></i><i class="AC rt k1">0</i><i class="AD rt k0">0</i><i class="AE rt k0">0</i><i class="AF rt k0">0</i><i class="AG rt k0">0</i><i class="AH rt k0">0</i><i class="AI rt k2">0</i><i class="AJ rt k3">0</i></div><div class="w" style="top:495px"><i class="A">25</i><i class="B">2016-10-31</i><i class="C">25</i><i class="D"><b class="g" style="width:25px"></b><s>58</s></i><i class="E" style="background:#9dcf7e">4:05</i><i class="F" style="background:#e3e382">4:28</i><i class="G"><b class="g" style="width:25px"></b><s>58</s></i><i class="H" style="background:#a3d17f">4:07</i><i class="I" style="background:#dae082">4:25</i><i class="J"><b class="g" style="width:49px"></b><s>116</s></i><i class="K" style="background:#9dcf7e">4:05</i><i class="L bd" style="background:#e0e282">4:27</i><i class="M rt" style="background:#79c47c">9</i><i class="N rt" style="background:#79c47c">9</i><i class="O rt" style="background:#79c47c">9</i><i class="P rt" style="background:#79c47c">9</i><i class="Q rt" style="background:#79c47c">9</i><i class="R rt" style="background:#bcd880">6</i><i class="S rt" style="background:#a6d17f">7</i><i class="T rt3"><b class="bl" style="width:21px"></b><s>58</s></i><i class="U rt" style="background:#79c47c">9</i><i class="V rt" style="background:#79c47c">9</i><i class="W rt" style="background:#79c47c">9</i><i class="X rt" style="background:#79c47c">9</i><i class="Y rt" style="background:#79c47c">9</i><i class="Z rt" style="background:#bcd880">6</i><i class="AA rt" style="background:#a6d17f">7</i><i class="AB rt3"><b class="bl" style="width:21px"></b><s>58</s></i><i class="AC rt">0</i><i class="AD rt">0</i><i class="AE rt">0</i><i class="AF rt">0</i><i class="AG rt">0</i><i class="AH rt">0</i><i class="AI rt">0</i><i class="AJ rt">0</i></div><div class="w" style="top:511px"><i class="A k1">26</i><i class="B k2">2016-06-01</i><i class="C k3">26</i><i class="D k1"><b class="g" style="width:22px"></b><s>51</s></i><i class="E" style="background:#9dcf7e">4:05</i><i class="F" style="background:#e0e282">4:27</i><i class="G k1"><b class="g" style="width:22px"></b><s>51</s></i><i class="H" style="background:#a3d17f">4:07</i><i class="I" style="background:#dae082">4:25</i><i class="J k1"><b class="g" style="width:43px"></b><s>102</s></i><i class="K" style="background:#9dcf7e">4:05</i><i class="L bd" style="background:#dde182">4:26</i><i class="M rt" style="background:#90cb7e">8</i><i class="N rt" style="background:#90cb7e">8</i><i class="O rt" style="background:#90cb7e">8</i><i class="P rt" style="background:#90cb7e">8</i><i class="Q rt" style="background:#90cb7e">8</i><i class="R rt" style="background:#d2de81">5</i><i class="S rt" style="background:#bcd880">6</i><i class="T rt3 k3"><b class="bl" style="width:19px"></b><s>51</s></i><i class="U rt" style="background:#90cb7e">8</i><i class="V rt" style="background:#90cb7e">8</i><i class="W rt" style="background:#90cb7e">8</i><i class="X rt" style="background:#90cb7e">8</i><i class="Y rt" style="background:#90cb7e">8</i><i class="Z rt" style="background:#d2de81">5</i><i class="AA rt" style="background:#bcd880">6</i><i class="AB rt3 k3"><b class="bl" style="width:19px"></b><s>51</s></i><i class="AC rt k1">0</i><i class="AD rt k0">0</i><i class="AE rt k0">0</i><i class="AF rt k0">0</i><i class="AG rt k0">0</i><i class="AH rt k0">0</i><i class="AI rt k2">0</i><i class="AJ rt k3">0</i></div><div class="w" style="top:527px"><i class="A">27</i><i class="B">2015-10-26</i><i class="C">27</i><i class="D"><b class="g" style="width:22px"></b><s>51</s></i><i class="E" style="background:#97cd7e">4:03</i><i class="F" style="background:#d7e082">4:24</i><i class="G"><b class="g" style="width:22px"></b><s>51</s></i><i class="H" style="background:#91cb7e">4:01</i><i class="I" style="background:#d4df82">4:23</i><i class="J"><b class="g" style="width:43px"></b><s>102</s></i><i class="K" style="background:#91cb7e">4:01</i><i class="L bd" style="background:#d4df82">4:23</i><i class="M rt" style="background:#90cb7e">8</i><i class="N rt" style="background:#90cb7e">8</i><i class="O rt" style="background:#90cb7e">8</i><i class="P rt" style="background:#90cb7e">8</i><i class="Q rt" style="background:#90cb7e">8</i><i class="R rt" style="background:#d2de81">5</i><i class="S rt" style="background:#bcd880">6</i><i class="T rt3"><b class="bl" style="width:19px"></b><s>51</s></i><i class="U rt" style="background:#90cb7e">8</i><i class="V rt" style="background:#90cb7e">8</i><i class="W rt" style="background:#90cb7e">8</i><i class="X rt" style="background:#90cb7e">8</i><i class="Y rt" style="background:#90cb7e">8</i><i class="Z rt" style="background:#d2de81">5</i><i class="AA rt" style="background:#bcd880">6</i><i class="AB rt3"><b class="bl" style="width:19px"></b><s>51</s></i><i class="AC rt">0</i><i class="AD rt">0</i><i class="AE rt">0</i><i class="AF rt">0</i><i class="AG rt">0</i><i class="AH rt">0</i><i class="AI rt">0</i><i class="AJ rt">0</i></div><div class="w" style="top:543px"><i class="A k1">28</i><i class="B k2">2015-06-01</i><i class="C k3">28</i><i class="D k1"><b class="g" style="width:20px"></b><s>48</s></i><i class="E" style="background:#97cd7e">4:03</i><i class="F" style="background:#d7e082">4:24</i><i class="G k1"><b class="g" style="width:20px"></b><s>48</s></i><i class="H" style="background:#91cb7e">4:01</i><i class="I" style="background:#d4df82">4:23</i><i class="J k1"><b class="g" style="width:41px"></b><s>96</s></i><i class="K" style="background:#91cb7e">4:01</i><i class="L bd" style="background:#d7e082">4:24</i><i class="M rt" style="background:#90cb7e">8</i><i class="N rt" style="background:#a6d17f">7</i><i class="O rt" style="background:#a6d17f">7</i><i class="P rt" style="background:#a6d17f">7</i><i class="Q rt" style="background:#90cb7e">8</i><i class="R rt" style="background:#d2de81">5</i><i class="S rt" style="background:#bcd880">6</i><i class="T rt3 k3"><b class="bl" style="width:18px"></b><s>48</s></i><i class="U rt" style="background:#90cb7e">8</i><i class="V rt" style="background:#a6d17f">7</i><i class="W rt" style="background:#a6d17f">7</i><i class="X rt" style="background:#a6d17f">7</i><i class="Y rt" style="background:#90cb7e">8</i><i class="Z rt" style="background:#d2de81">5</i><i class="AA rt" style="background:#bcd880">6</i><i class="AB rt3 k3"><b class="bl" style="width:18px"></b><s>48</s></i><i class="AC rt k1">0</i><i class="AD rt k0">0</i><i class="AE rt k0">0</i><i class="AF rt k0">0</i><i class="AG rt k0">0</i><i class="AH rt k0">0</i><i class="AI rt k2">0</i><i class="AJ rt k3">0</i></div><div class="w" style="top:559px"><i class="A">29</i><i class="B">2014-10-27</i><i class="C">29</i><i class="D"><b class="g" style="width:20px"></b><s>48</s></i><i class="E" style="background:#72c27c">3:51</i><i class="F" style="background:#d1de81">4:22</i><i class="G"><b class="g" style="width:20px"></b><s>48</s></i><i class="H" style="background:#69c07b">3:48</i><i class="I" style="background:#cedd81">4:21</i><i class="J"><b class="g" style="width:41px"></b><s>96</s></i><i class="K" style="background:#69c07b">3:48</i><i class="L bd" style="background:#cedd81">4:21</i><i class="M rt" style="background:#90cb7e">8</i><i class="N rt" style="background:#a6d17f">7</i><i class="O rt" style="background:#a6d17f">7</i><i class="P rt" style="background:#a6d17f">7</i><i class="Q rt" style="background:#90cb7e">8</i><i class="R rt" style="background:#d2de81">5</i><i class="S rt" style="background:#bcd880">6</i><i class="T rt3"><b class="bl" style="width:18px"></b><s>48</s></i><i class="U rt" style="background:#90cb7e">8</i><i class="V rt" style="background:#a6d17f">7</i><i class="W rt" style="background:#a6d17f">7</i><i class="X rt" style="background:#a6d17f">7</i><i class="Y rt" style="background:#90cb7e">8</i><i class="Z rt" style="background:#d2de81">5</i><i class="AA rt" style="background:#bcd880">6</i><i class="AB rt3"><b class="bl" style="width:18px"></b><s>48</s></i><i class="AC rt">0</i><i class="AD rt">0</i><i class="AE rt">0</i><i class="AF rt">0</i><i class="AG rt">0</i><i class="AH rt">0</i><i class="AI rt">0</i><i class="AJ rt">0</i></div><div class="w" style="top:575px"><i class="A k1">30</i><i class="B k2">2014-07-07</i><i class="C k3">30</i><i class="D k1"><b class="g" style="width:19px"></b><s>44</s></i><i class="E" style="background:#72c27c">3:51</i><i class="F" style="background:#d1de81">4:22</i><i class="G k1"><b class="g" style="width:19px"></b><s>44</s></i><i class="H" style="background:#69c07b">3:48</i><i class="I" style="background:#d1de81">4:22</i><i class="J k1"><b class="g" style="width:37px"></b><s>88</s></i><i class="K" style="background:#69c07b">3:48</i><i class="L bd" style="background:#d1de81">4:22</i><i class="M rt" style="background:#a6d17f">7</i><i class="N rt" style="background:#a6d17f">7</i><i class="O rt" style="background:#a6d17f">7</i><i class="P rt" style="background:#a6d17f">7</i><i class="Q rt" style="background:#a6d17f">7</i><i class="R rt" style="background:#e9e583">4</i><i class="S rt" style="background:#d2de81">5</i><i class="T rt3 k3"><b class="bl" style="width:16px"></b><s>44</s></i><i class="U rt" style="background:#a6d17f">7</i><i class="V rt" style="background:#a6d17f">7</i><i class="W rt" style="background:#a6d17f">7</i><i class="X rt" style="background:#a6d17f">7</i><i class="Y rt" style="background:#a6d17f">7</i><i class="Z rt" style="background:#e9e583">4</i><i class="AA rt" style="background:#d2de81">5</i><i class="AB rt3 k3"><b class="bl" style="width:16px"></b><s>44</s></i><i class="AC rt k1">0</i><i class="AD rt k0">0</i><i class="AE rt k0">0</i><i class="AF rt k0">0</i><i class="AG rt k0">0</i><i class="AH rt k0">0</i><i class="AI rt k2">0</i><i class="AJ rt k3">0</i></div><div class="w" style="top:591px"><i class="A">31</i><i class="B">2014-01-01</i><i class="C">31</i><i class="D"><b class="g" style="width:19px"></b><s>44</s></i><i class="E" style="background:#66bf7b">3:47</i><i class="F" style="background:#cbdc81">4:20</i><i class="G"><b class="g" style="width:19px"></b><s>44</s></i><i class="H" style="background:#63be7b">3:46</i><i class="I" style="background:#cedd81">4:21</i><i class="J"><b class="g" style="width:37px"></b><s>88</s></i><i class="K" style="background:#63be7b">3:46</i><i class="L bd" style="background:#cbdc81">4:20</i><i class="M rt" style="background:#a6d17f">7</i><i class="N rt" style="background:#a6d17f">7</i><i class="O rt" style="background:#a6d17f">7</i><i class="P rt" style="background:#a6d17f">7</i><i class="Q rt" style="background:#a6d17f">7</i><i class="R rt" style="background:#e9e583">4</i><i class="S rt" style="background:#d2de81">5</i><i class="T rt3"><b class="bl" style="width:16px"></b><s>44</s></i><i class="U rt" style="background:#a6d17f">7</i><i class="V rt" style="background:#a6d17f">7</i><i class="W rt" style="background:#a6d17f">7</i><i class="X rt" style="background:#a6d17f">7</i><i class="Y rt" style="background:#a6d17f">7</i><i class="Z rt" style="background:#e9e583">4</i><i class="AA rt" style="background:#d2de81">5</i><i class="AB rt3"><b class="bl" style="width:16px"></b><s>44</s></i><i class="AC rt">0</i><i class="AD rt">0</i><i class="AE rt">0</i><i class="AF rt">0</i><i class="AG rt">0</i><i class="AH rt">0</i><i class="AI rt">0</i><i class="AJ rt">0</i></div><div class="w" style="top:607px"><i class="A k1">32</i><i class="B k2">2013-06-06</i><i class="C k3">32</i><i class="D k1"><b class="g" style="width:19px"></b><s>44</s></i><i class="E" style="background:#8bc97d">3:59</i><i class="F" style="background:#cedd81">4:21</i><i class="G k1"><b class="g" style="width:19px"></b><s>44</s></i><i class="H" style="background:#8bc97d">3:59</i><i class="I" style="background:#dae082">4:25</i><i class="J k1"><b class="g" style="width:37px"></b><s>88</s></i><i class="K" style="background:#8bc97d">3:59</i><i class="L bd" style="background:#d4df82">4:23</i><i class="M rt" style="background:#a6d17f">7</i><i class="N rt" style="background:#a6d17f">7</i><i class="O rt" style="background:#a6d17f">7</i><i class="P rt" style="background:#a6d17f">7</i><i class="Q rt" style="background:#a6d17f">7</i><i class="R rt" style="background:#e9e583">4</i><i class="S rt" style="background:#d2de81">5</i><i class="T rt3 k3"><b class="bl" style="width:16px"></b><s>44</s></i><i class="U rt" style="background:#a6d17f">7</i><i class="V rt" style="background:#a6d17f">7</i><i class="W rt" style="background:#a6d17f">7</i><i class="X rt" style="background:#a6d17f">7</i><i class="Y rt" style="background:#a6d17f">7</i><i class="Z rt" style="background:#e9e583">4</i><i class="AA rt" style="background:#d2de81">5</i><i class="AB rt3 k3"><b class="bl" style="width:16px"></b><s>44</s></i><i class="AC rt k1">0</i><i class="AD rt k0">0</i><i class="AE rt k0">0</i><i class="AF rt k0">0</i><i class="AG rt k0">0</i><i class="AH rt k0">0</i><i class="AI rt k2">0</i><i class="AJ rt k3">0</i></div><div class="w" style="top:623px"><i class="A">33</i><i class="B">2012-12-10</i><i class="C">33</i><i class="D"><b class="g" style="width:19px"></b><s>44</s></i><i class="E" style="background:#8bc97d">3:59</i><i class="F" style="background:#cedd81">4:21</i><i class="G"><b class="g" style="width:19px"></b><s>44</s></i><i class="H" style="background:#8bc97d">3:59</i><i class="I" style="background:#dae082">4:25</i><i class="J"><b class="g" style="width:37px"></b><s>88</s></i><i class="K" style="background:#8bc97d">3:59</i><i class="L bd" style="background:#d4df82">4:23</i><i class="M rt" style="background:#a6d17f">7</i><i class="N rt" style="background:#a6d17f">7</i><i class="O rt" style="background:#a6d17f">7</i><i class="P rt" style="background:#a6d17f">7</i><i class="Q rt" style="background:#a6d17f">7</i><i class="R rt" style="background:#e9e583">4</i><i class="S rt" style="background:#d2de81">5</i><i class="T rt3"><b class="bl" style="width:16px"></b><s>44</s></i><i class="U rt" style="background:#a6d17f">7</i><i class="V rt" style="background:#a6d17f">7</i><i class="W rt" style="background:#a6d17f">7</i><i class="X rt" style="background:#a6d17f">7</i><i class="Y rt" style="background:#a6d17f">7</i><i class="Z rt" style="background:#e9e583">4</i><i class="AA rt" style="background:#d2de81">5</i><i class="AB rt3"><b class="bl" style="width:16px"></b><s>44</s></i><i class="AC rt">0</i><i class="AD rt">0</i><i class="AE rt">0</i><i class="AF rt">0</i><i class="AG rt">0</i><i class="AH rt">0</i><i class="AI rt">0</i><i class="AJ rt">0</i></div><div class="w" style="top:639px"><i class="A k1">34</i><i class="B k2">2012-01-24</i><i class="C k3">34</i><i class="D k1"><b class="g" style="width:16px"></b><s>38</s></i><i class="E" style="background:#85c87d">3:57</i><i class="F" style="background:#e7e483">4:29</i><i class="G k1"><b class="g" style="width:16px"></b><s>38</s></i><i class="H" style="background:#85c87d">3:57</i><i class="I" style="background:#e3e382">4:28</i><i class="J k1"><b class="g" style="width:32px"></b><s>76</s></i><i class="K" style="background:#85c87d">3:57</i><i class="L bd" style="background:#e7e483">4:29</i><i class="M rt" style="background:#bcd880">6</i><i class="N rt" style="background:#bcd880">6</i><i class="O rt" style="background:#bcd880">6</i><i class="P rt" style="background:#bcd880">6</i><i class="Q rt" style="background:#bcd880">6</i><i class="R rt" style="background:#ffeb84">3</i><i class="S rt" style="background:#d2de81">5</i><i class="T rt3 k3"><b class="bl" style="width:14px"></b><s>38</s></i><i class="U rt" style="background:#bcd880">6</i><i class="V rt" style="background:#bcd880">6</i><i class="W rt" style="background:#bcd880">6</i><i class="X rt" style="background:#bcd880">6</i><i class="Y rt" style="background:#bcd880">6</i><i class="Z rt" style="background:#ffeb84">3</i><i class="AA rt" style="background:#d2de81">5</i><i class="AB rt3 k3"><b class="bl" style="width:14px"></b><s>38</s></i><i class="AC rt k1">0</i><i class="AD rt k0">0</i><i class="AE rt k0">0</i><i class="AF rt k0">0</i><i class="AG rt k0">0</i><i class="AH rt k0">0</i><i class="AI rt k2">0</i><i class="AJ rt k3">0</i></div><div class="w" style="top:655px"><i class="A">35</i><i class="B">2011-04-26</i><i class="C">35</i><i class="D"><b class="g" style="width:14px"></b><s>32</s></i><i class="E" style="background:#d7e082">4:24</i><i class="F" style="background:#ffea84">4:39</i><i class="G"><b class="g" style="width:14px"></b><s>32</s></i><i class="H" style="background:#c5da81">4:18</i><i class="I" style="background:#f9e984">4:35</i><i class="J"><b class="g" style="width:27px"></b><s>64</s></i><i class="K" style="background:#c5da81">4:18</i><i class="L bd" style="background:#ffeb84">4:37</i><i class="M rt" style="background:#d2de81">5</i><i class="N rt" style="background:#d2de81">5</i><i class="O rt" style="background:#d2de81">5</i><i class="P rt" style="background:#d2de81">5</i><i class="Q rt" style="background:#d2de81">5</i><i class="R rt" style="background:#ffeb84">3</i><i class="S rt" style="background:#e9e583">4</i><i class="T rt3"><b class="bl" style="width:12px"></b><s>32</s></i><i class="U rt" style="background:#d2de81">5</i><i class="V rt" style="background:#d2de81">5</i><i class="W rt" style="background:#d2de81">5</i><i class="X rt" style="background:#d2de81">5</i><i class="Y rt" style="background:#d2de81">5</i><i class="Z rt" style="background:#ffeb84">3</i><i class="AA rt" style="background:#e9e583">4</i><i class="AB rt3"><b class="bl" style="width:12px"></b><s>32</s></i><i class="AC rt">0</i><i class="AD rt">0</i><i class="AE rt">0</i><i class="AF rt">0</i><i class="AG rt">0</i><i class="AH rt">0</i><i class="AI rt">0</i><i class="AJ rt">0</i></div><div class="w" style="top:671px"><i class="A k1">36</i><i class="B k2">2011-01-17</i><i class="C k3">36</i><i class="D k1"><b class="g" style="width:14px"></b><s>32</s></i><i class="E" style="background:#c8db81">4:19</i><i class="F" style="background:#f0e783">4:32</i><i class="G k1"><b class="g" style="width:14px"></b><s>32</s></i><i class="H" style="background:#b3d580">4:12</i><i class="I" style="background:#f0e783">4:32</i><i class="J k1"><b class="g" style="width:27px"></b><s>64</s></i><i class="K" style="background:#b3d580">4:12</i><i class="L bd" style="background:#f0e783">4:32</i><i class="M rt" style="background:#d2de81">5</i><i class="N rt" style="background:#d2de81">5</i><i class="O rt" style="background:#d2de81">5</i><i class="P rt" style="background:#d2de81">5</i><i class="Q rt" style="background:#d2de81">5</i><i class="R rt" style="background:#ffeb84">3</i><i class="S rt" style="background:#e9e583">4</i><i class="T rt3 k3"><b class="bl" style="width:12px"></b><s>32</s></i><i class="U rt" style="background:#d2de81">5</i><i class="V rt" style="background:#d2de81">5</i><i class="W rt" style="background:#d2de81">5</i><i class="X rt" style="background:#d2de81">5</i><i class="Y rt" style="background:#d2de81">5</i><i class="Z rt" style="background:#ffeb84">3</i><i class="AA rt" style="background:#e9e583">4</i><i class="AB rt3 k3"><b class="bl" style="width:12px"></b><s>32</s></i><i class="AC rt k1">0</i><i class="AD rt k0">0</i><i class="AE rt k0">0</i><i class="AF rt k0">0</i><i class="AG rt k0">0</i><i class="AH rt k0">0</i><i class="AI rt k2">0</i><i class="AJ rt k3">0</i></div><div class="w" style="top:687px"><i class="A">37</i><i class="B">2010-06-01</i><i class="C">37</i><i class="D"><b class="g" style="width:14px"></b><s>32</s></i><i class="E" style="background:#dde182">4:26</i><i class="F" style="background:#fcea84">4:36</i><i class="G"><b class="g" style="width:14px"></b><s>32</s></i><i class="H" style="background:#cbdc81">4:20</i><i class="I" style="background:#f9e984">4:35</i><i class="J"><b class="g" style="width:27px"></b><s>64</s></i><i class="K" style="background:#cbdc81">4:20</i><i class="L bd" style="background:#fcea84">4:36</i><i class="M rt" style="background:#d2de81">5</i><i class="N rt" style="background:#d2de81">5</i><i class="O rt" style="background:#d2de81">5</i><i class="P rt" style="background:#d2de81">5</i><i class="Q rt" style="background:#d2de81">5</i><i class="R rt" style="background:#ffeb84">3</i><i class="S rt" style="background:#e9e583">4</i><i class="T rt3"><b class="bl" style="width:12px"></b><s>32</s></i><i class="U rt" style="background:#d2de81">5</i><i class="V rt" style="background:#d2de81">5</i><i class="W rt" style="background:#d2de81">5</i><i class="X rt" style="background:#d2de81">5</i><i class="Y rt" style="background:#d2de81">5</i><i class="Z rt" style="background:#ffeb84">3</i><i class="AA rt" style="background:#e9e583">4</i><i class="AB rt3"><b class="bl" style="width:12px"></b><s>32</s></i><i class="AC rt">0</i><i class="AD rt">0</i><i class="AE rt">0</i><i class="AF rt">0</i><i class="AG rt">0</i><i class="AH rt">0</i><i class="AI rt">0</i><i class="AJ rt">0</i></div><div class="w" style="top:703px"><i class="A k1">38</i><i class="B k2">2009-12-01</i><i class="C k3">38</i><i class="D k1"><b class="g" style="width:14px"></b><s>32</s></i><i class="E" style="background:#cbdc81">4:20</i><i class="F" style="background:#e0e282">4:27</i><i class="G k1"><b class="g" style="width:14px"></b><s>32</s></i><i class="H" style="background:#bcd880">4:15</i><i class="I" style="background:#eae583">4:30</i><i class="J k1"><b class="g" style="width:27px"></b><s>64</s></i><i class="K" style="background:#bcd880">4:15</i><i class="L bd" style="background:#e3e382">4:28</i><i class="M rt" style="background:#d2de81">5</i><i class="N rt" style="background:#d2de81">5</i><i class="O rt" style="background:#d2de81">5</i><i class="P rt" style="background:#d2de81">5</i><i class="Q rt" style="background:#d2de81">5</i><i class="R rt" style="background:#ffeb84">3</i><i class="S rt" style="background:#e9e583">4</i><i class="T rt3 k3"><b class="bl" style="width:12px"></b><s>32</s></i><i class="U rt" style="background:#d2de81">5</i><i class="V rt" style="background:#d2de81">5</i><i class="W rt" style="background:#d2de81">5</i><i class="X rt" style="background:#d2de81">5</i><i class="Y rt" style="background:#d2de81">5</i><i class="Z rt" style="background:#ffeb84">3</i><i class="AA rt" style="background:#e9e583">4</i><i class="AB rt3 k3"><b class="bl" style="width:12px"></b><s>32</s></i><i class="AC rt k1">0</i><i class="AD rt k0">0</i><i class="AE rt k0">0</i><i class="AF rt k0">0</i><i class="AG rt k0">0</i><i class="AH rt k0">0</i><i class="AI rt k2">0</i><i class="AJ rt k3">0</i></div><div class="w" style="top:719px"><i class="A">39</i><i class="B">2009-05-01</i><i class="C">39</i><i class="D"><b class="g" style="width:14px"></b><s>32</s></i><i class="E" style="background:#f6e883">4:34</i><i class="F" style="background:#ffe883">4:42</i><i class="G"><b class="g" style="width:14px"></b><s>32</s></i><i class="H" style="background:#e3e382">4:28</i><i class="I" style="background:#ffe783">4:45</i><i class="J"><b class="g" style="width:27px"></b><s>64</s></i><i class="K" style="background:#e3e382">4:28</i><i class="L bd" style="background:#ffe883">4:43</i><i class="M rt" style="background:#d2de81">5</i><i class="N rt" style="background:#d2de81">5</i><i class="O rt" style="background:#d2de81">5</i><i class="P rt" style="background:#d2de81">5</i><i class="Q rt" style="background:#d2de81">5</i><i class="R rt" style="background:#ffeb84">3</i><i class="S rt" style="background:#e9e583">4</i><i class="T rt3"><b class="bl" style="width:12px"></b><s>32</s></i><i class="U rt" style="background:#d2de81">5</i><i class="V rt" style="background:#d2de81">5</i><i class="W rt" style="background:#d2de81">5</i><i class="X rt" style="background:#d2de81">5</i><i class="Y rt" style="background:#d2de81">5</i><i class="Z rt" style="background:#ffeb84">3</i><i class="AA rt" style="background:#e9e583">4</i><i class="AB rt3"><b class="bl" style="width:12px"></b><s>32</s></i><i class="AC rt">0</i><i class="AD rt">0</i><i class="AE rt">0</i><i class="AF rt">0</i><i class="AG rt">0</i><i class="AH rt">0</i><i class="AI rt">0</i><i class="AJ rt">0</i></div><div class="w" style="top:735px"><i class="A k1">40</i><i class="B k2">2008-12-01</i><i class="C k3">40</i><i class="D k1"><b class="g" style="width:14px"></b><s>32</s></i><i class="E" style="background:#dae082">4:25</i><i class="F" style="background:#f6e883">4:34</i><i class="G k1"><b class="g" style="width:14px"></b><s>32</s></i><i class="H" style="background:#cedd81">4:21</i><i class="I" style="background:#fcea84">4:36</i><i class="J k1"><b class="g" style="width:27px"></b><s>64</s></i><i class="K" style="background:#cedd81">4:21</i><i class="L bd" style="background:#f9e984">4:35</i><i class="M rt" style="background:#d2de81">5</i><i class="N rt" style="background:#d2de81">5</i><i class="O rt" style="background:#d2de81">5</i><i class="P rt" style="background:#d2de81">5</i><i class="Q rt" style="background:#d2de81">5</i><i class="R rt" style="background:#ffeb84">3</i><i class="S rt" style="background:#e9e583">4</i><i class="T rt3 k3"><b class="bl" style="width:12px"></b><s>32</s></i><i class="U rt" style="background:#d2de81">5</i><i class="V rt" style="background:#d2de81">5</i><i class="W rt" style="background:#d2de81">5</i><i class="X rt" style="background:#d2de81">5</i><i class="Y rt" style="background:#d2de81">5</i><i class="Z rt" style="background:#ffeb84">3</i><i class="AA rt" style="background:#e9e583">4</i><i class="AB rt3 k3"><b class="bl" style="width:12px"></b><s>32</s></i><i class="AC rt k1">0</i><i class="AD rt k0">0</i><i class="AE rt k0">0</i><i class="AF rt k0">0</i><i class="AG rt k0">0</i><i class="AH rt k0">0</i><i class="AI rt k2">0</i><i class="AJ rt k3">0</i></div><div class="w" style="top:751px"><i class="A">41</i><i class="B">2008-06-01</i><i class="C">41</i><i class="D"><b class="g" style="width:14px"></b><s>32</s></i><i class="E" style="background:#dae082">4:25</i><i class="F" style="background:#f3e783">4:33</i><i class="G"><b class="g" style="width:14px"></b><s>32</s></i><i class="H" style="background:#c8db81">4:19</i><i class="I" style="background:#ffea84">4:38</i><i class="J"><b class="g" style="width:27px"></b><s>64</s></i><i class="K" style="background:#c8db81">4:19</i><i class="L bd" style="background:#f9e984">4:35</i><i class="M rt" style="background:#d2de81">5</i><i class="N rt" style="background:#d2de81">5</i><i class="O rt" style="background:#d2de81">5</i><i class="P rt" style="background:#d2de81">5</i><i class="Q rt" style="background:#d2de81">5</i><i class="R rt" style="background:#ffeb84">3</i><i class="S rt" style="background:#e9e583">4</i><i class="T rt3"><b class="bl" style="width:12px"></b><s>32</s></i><i class="U rt" style="background:#d2de81">5</i><i class="V rt" style="background:#d2de81">5</i><i class="W rt" style="background:#d2de81">5</i><i class="X rt" style="background:#d2de81">5</i><i class="Y rt" style="background:#d2de81">5</i><i class="Z rt" style="background:#ffeb84">3</i><i class="AA rt" style="background:#e9e583">4</i><i class="AB rt3"><b class="bl" style="width:12px"></b><s>32</s></i><i class="AC rt">0</i><i class="AD rt">0</i><i class="AE rt">0</i><i class="AF rt">0</i><i class="AG rt">0</i><i class="AH rt">0</i><i class="AI rt">0</i><i class="AJ rt">0</i></div><div class="w" style="top:767px"><i class="A k1">42</i><i class="B k2">2008-01-14</i><i class="C k3">42</i><i class="D k1"><b class="g" style="width:14px"></b><s>32</s></i><i class="E" style="background:#97cd7e">4:03</i><i class="F" style="background:#b6d680">4:13</i><i class="G k1"><b class="g" style="width:14px"></b><s>32</s></i><i class="H" style="background:#91cb7e">4:01</i><i class="I" style="background:#c8db81">4:19</i><i class="J k1"><b class="g" style="width:27px"></b><s>64</s></i><i class="K" style="background:#91cb7e">4:01</i><i class="L bd" style="background:#bfd880">4:16</i><i class="M rt" style="background:#d2de81">5</i><i class="N rt" style="background:#d2de81">5</i><i class="O rt" style="background:#d2de81">5</i><i class="P rt" style="background:#d2de81">5</i><i class="Q rt" style="background:#d2de81">5</i><i class="R rt" style="background:#ffeb84">3</i><i class="S rt" style="background:#e9e583">4</i><i class="T rt3 k3"><b class="bl" style="width:12px"></b><s>32</s></i><i class="U rt" style="background:#d2de81">5</i><i class="V rt" style="background:#d2de81">5</i><i class="W rt" style="background:#d2de81">5</i><i class="X rt" style="background:#d2de81">5</i><i class="Y rt" style="background:#d2de81">5</i><i class="Z rt" style="background:#ffeb84">3</i><i class="AA rt" style="background:#e9e583">4</i><i class="AB rt3 k3"><b class="bl" style="width:12px"></b><s>32</s></i><i class="AC rt k1">0</i><i class="AD rt k0">0</i><i class="AE rt k0">0</i><i class="AF rt k0">0</i><i class="AG rt k0">0</i><i class="AH rt k0">0</i><i class="AI rt k2">0</i><i class="AJ rt k3">0</i></div><div class="w" style="top:783px"><i class="A">43</i><i class="B">2007-04-29</i><i class="C">43</i><i class="D"><b class="g" style="width:14px"></b><s>32</s></i><i class="E" style="background:#a3d17f">4:07</i><i class="F" style="background:#c2d980">4:17</i><i class="G"><b class="g" style="width:14px"></b><s>32</s></i><i class="H" style="background:#9dcf7e">4:05</i><i class="I" style="background:#d1de81">4:22</i><i class="J"><b class="g" style="width:27px"></b><s>64</s></i><i class="K" style="background:#9dcf7e">4:05</i><i class="L bd" style="background:#c8db81">4:19</i><i class="M rt" style="background:#d2de81">5</i><i class="N rt" style="background:#d2de81">5</i><i class="O rt" style="background:#d2de81">5</i><i class="P rt" style="background:#d2de81">5</i><i class="Q rt" style="background:#d2de81">5</i><i class="R rt" style="background:#ffeb84">3</i><i class="S rt" style="background:#e9e583">4</i><i class="T rt3"><b class="bl" style="width:12px"></b><s>32</s></i><i class="U rt" style="background:#d2de81">5</i><i class="V rt" style="background:#d2de81">5</i><i class="W rt" style="background:#d2de81">5</i><i class="X rt" style="background:#d2de81">5</i><i class="Y rt" style="background:#d2de81">5</i><i class="Z rt" style="background:#ffeb84">3</i><i class="AA rt" style="background:#e9e583">4</i><i class="AB rt3"><b class="bl" style="width:12px"></b><s>32</s></i><i class="AC rt">0</i><i class="AD rt">0</i><i class="AE rt">0</i><i class="AF rt">0</i><i class="AG rt">0</i><i class="AH rt">0</i><i class="AI rt">0</i><i class="AJ rt">0</i></div><div class="w" style="top:799px"><i class="A k1">44</i><i class="B k2">2006-10-29</i><i class="C k3">44</i><i class="D k1"><b class="g" style="width:14px"></b><s>32</s></i><i class="E" style="background:#9dcf7e">4:05</i><i class="F" style="background:#cedd81">4:21</i><i class="G k1"><b class="g" style="width:14px"></b><s>32</s></i><i class="H" style="background:#acd37f">4:10</i><i class="I" style="background:#e0e282">4:27</i><i class="J k1"><b class="g" style="width:27px"></b><s>64</s></i><i class="K" style="background:#9dcf7e">4:05</i><i class="L bd" style="background:#d7e082">4:24</i><i class="M rt" style="background:#d2de81">5</i><i class="N rt" style="background:#d2de81">5</i><i class="O rt" style="background:#d2de81">5</i><i class="P rt" style="background:#d2de81">5</i><i class="Q rt" style="background:#d2de81">5</i><i class="R rt" style="background:#ffeb84">3</i><i class="S rt" style="background:#e9e583">4</i><i class="T rt3 k3"><b class="bl" style="width:12px"></b><s>32</s></i><i class="U rt" style="background:#d2de81">5</i><i class="V rt" style="background:#d2de81">5</i><i class="W rt" style="background:#d2de81">5</i><i class="X rt" style="background:#d2de81">5</i><i class="Y rt" style="background:#d2de81">5</i><i class="Z rt" style="background:#ffeb84">3</i><i class="AA rt" style="background:#e9e583">4</i><i class="AB rt3 k3"><b class="bl" style="width:12px"></b><s>32</s></i><i class="AC rt k1">0</i><i class="AD rt k0">0</i><i class="AE rt k0">0</i><i class="AF rt k0">0</i><i class="AG rt k0">0</i><i class="AH rt k0">0</i><i class="AI rt k2">0</i><i class="AJ rt k3">0</i></div><div class="w" style="top:815px"><i class="A">45</i><i class="B">2006-04-30</i><i class="C">45</i><i class="D"><b class="g" style="width:14px"></b><s>32</s></i><i class="E" style="background:#9dcf7e">4:05</i><i class="F" style="background:#cbdc81">4:20</i><i class="G"><b class="g" style="width:14px"></b><s>32</s></i><i class="H" style="background:#acd37f">4:10</i><i class="I" style="background:#e0e282">4:27</i><i class="J"><b class="g" style="width:27px"></b><s>64</s></i><i class="K" style="background:#9dcf7e">4:05</i><i class="L bd" style="background:#d4df82">4:23</i><i class="M rt" style="background:#d2de81">5</i><i class="N rt" style="background:#d2de81">5</i><i class="O rt" style="background:#d2de81">5</i><i class="P rt" style="background:#d2de81">5</i><i class="Q rt" style="background:#d2de81">5</i><i class="R rt" style="background:#ffeb84">3</i><i class="S rt" style="background:#e9e583">4</i><i class="T rt3"><b class="bl" style="width:12px"></b><s>32</s></i><i class="U rt" style="background:#d2de81">5</i><i class="V rt" style="background:#d2de81">5</i><i class="W rt" style="background:#d2de81">5</i><i class="X rt" style="background:#d2de81">5</i><i class="Y rt" style="background:#d2de81">5</i><i class="Z rt" style="background:#ffeb84">3</i><i class="AA rt" style="background:#e9e583">4</i><i class="AB rt3"><b class="bl" style="width:12px"></b><s>32</s></i><i class="AC rt">0</i><i class="AD rt">0</i><i class="AE rt">0</i><i class="AF rt">0</i><i class="AG rt">0</i><i class="AH rt">0</i><i class="AI rt">0</i><i class="AJ rt">0</i></div><div class="w" style="top:831px"><i class="A k1">46</i><i class="B k2">2005-10-30</i><i class="C k3">46</i><i class="D k1"><b class="g" style="width:14px"></b><s>32</s></i><i class="E" style="background:#9dcf7e">4:05</i><i class="F" style="background:#c8db81">4:19</i><i class="G k1"><b class="g" style="width:14px"></b><s>32</s></i><i class="H" style="background:#acd37f">4:10</i><i class="I" style="background:#e0e282">4:27</i><i class="J k1"><b class="g" style="width:27px"></b><s>64</s></i><i class="K" style="background:#9dcf7e">4:05</i><i class="L bd" style="background:#d4df82">4:23</i><i class="M rt" style="background:#d2de81">5</i><i class="N rt" style="background:#d2de81">5</i><i class="O rt" style="background:#d2de81">5</i><i class="P rt" style="background:#d2de81">5</i><i class="Q rt" style="background:#d2de81">5</i><i class="R rt" style="background:#ffeb84">3</i><i class="S rt" style="background:#e9e583">4</i><i class="T rt3 k3"><b class="bl" style="width:12px"></b><s>32</s></i><i class="U rt" style="background:#d2de81">5</i><i class="V rt" style="background:#d2de81">5</i><i class="W rt" style="background:#d2de81">5</i><i class="X rt" style="background:#d2de81">5</i><i class="Y rt" style="background:#d2de81">5</i><i class="Z rt" style="background:#ffeb84">3</i><i class="AA rt" style="background:#e9e583">4</i><i class="AB rt3 k3"><b class="bl" style="width:12px"></b><s>32</s></i><i class="AC rt k1">0</i><i class="AD rt k0">0</i><i class="AE rt k0">0</i><i class="AF rt k0">0</i><i class="AG rt k0">0</i><i class="AH rt k0">0</i><i class="AI rt k2">0</i><i class="AJ rt k3">0</i></div><div class="w" style="top:847px"><i class="A">47</i><i class="B">2005-05-01</i><i class="C">47</i><i class="D"><b class="g" style="width:14px"></b><s>32</s></i><i class="E" style="background:#91cb7e">4:01</i><i class="F" style="background:#bfd880">4:16</i><i class="G"><b class="g" style="width:14px"></b><s>32</s></i><i class="H" style="background:#a0d07f">4:06</i><i class="I" style="background:#d4df82">4:23</i><i class="J"><b class="g" style="width:27px"></b><s>64</s></i><i class="K" style="background:#91cb7e">4:01</i><i class="L bd" style="background:#c8db81">4:19</i><i class="M rt" style="background:#d2de81">5</i><i class="N rt" style="background:#d2de81">5</i><i class="O rt" style="background:#d2de81">5</i><i class="P rt" style="background:#d2de81">5</i><i class="Q rt" style="background:#d2de81">5</i><i class="R rt" style="background:#ffeb84">3</i><i class="S rt" style="background:#e9e583">4</i><i class="T rt3"><b class="bl" style="width:12px"></b><s>32</s></i><i class="U rt" style="background:#d2de81">5</i><i class="V rt" style="background:#d2de81">5</i><i class="W rt" style="background:#d2de81">5</i><i class="X rt" style="background:#d2de81">5</i><i class="Y rt" style="background:#d2de81">5</i><i class="Z rt" style="background:#ffeb84">3</i><i class="AA rt" style="background:#e9e583">4</i><i class="AB rt3"><b class="bl" style="width:12px"></b><s>32</s></i><i class="AC rt">0</i><i class="AD rt">0</i><i class="AE rt">0</i><i class="AF rt">0</i><i class="AG rt">0</i><i class="AH rt">0</i><i class="AI rt">0</i><i class="AJ rt">0</i></div><div class="w" style="top:863px"><i class="A k1"></i><i class="B k2"></i><i class="C k3"></i><i class="D k1"><b class="g" style="width:14px"></b><s>32</s></i><i class="E" style="background:#91cb7e">4:01</i><i class="F" style="background:#b9d780">4:14</i><i class="G k1"><b class="g" style="width:14px"></b><s>32</s></i><i class="H" style="background:#9ace7e">4:04</i><i class="I" style="background:#cbdc81">4:20</i><i class="J k1"><b class="g" style="width:27px"></b><s>64</s></i><i class="K" style="background:#91cb7e">4:01</i><i class="L bd" style="background:#c2d980">4:17</i><i class="M rt" style="background:#d2de81">5</i><i class="N rt" style="background:#d2de81">5</i><i class="O rt" style="background:#d2de81">5</i><i class="P rt" style="background:#d2de81">5</i><i class="Q rt" style="background:#d2de81">5</i><i class="R rt" style="background:#ffeb84">3</i><i class="S rt" style="background:#e9e583">4</i><i class="T rt3 k3"><b class="bl" style="width:12px"></b><s>32</s></i><i class="U rt" style="background:#d2de81">5</i><i class="V rt" style="background:#d2de81">5</i><i class="W rt" style="background:#d2de81">5</i><i class="X rt" style="background:#d2de81">5</i><i class="Y rt" style="background:#d2de81">5</i><i class="Z rt" style="background:#ffeb84">3</i><i class="AA rt" style="background:#e9e583">4</i><i class="AB rt3 k3"><b class="bl" style="width:12px"></b><s>32</s></i><i class="AC rt k1">0</i><i class="AD rt k0">0</i><i class="AE rt k0">0</i><i class="AF rt k0">0</i><i class="AG rt k0">0</i><i class="AH rt k0">0</i><i class="AI rt k2">0</i><i class="AJ rt k3">0</i></div>
<div class="w" style="top:-1px"><i class="" style="left:3px;width:184px"><s class="wd" style="transform:scaleX(0.944)">FROM</s></i><i class="C">41</i><i class="" style="left:220px;width:58px"><s class="wd" style="transform:scaleX(0.881)">OTTW</s></i><i class="" style="left:457px;width:41px"><s class="wd" style="transform:scaleX(1.06)">MIN</s></i><i class="J">0</i><i class="K">3:46</i><i class="L bd">4:06</i></div><div class="w" style="top:15px"><i class="" style="left:3px;width:184px"><s class="wd" style="transform:scaleX(0.85)">TO</s></i><i class="C">71</i><i class="" style="left:220px;width:58px"><s class="wd" style="transform:scaleX(0.86)">TRTO</s></i><i class="" style="left:457px;width:41px"><s class="wd" style="transform:scaleX(0.95)">MAX</s></i><i class="J"><b class="g" style="width:55px"></b><s>130</s></i><i class="K">6:20</i><i class="L bd">8:34</i></div><div class="w" style="top:47px"><i class="" style="left:638px;width:478px"><s class="wd" style="transform:scaleX(1.092)">Number of frequencies</s></i></div><div class="w" style="top:63px"><i class="" style="left:220px;width:139px"><s class="wd" style="transform:scaleX(1.073)">Westbound (as above)</s></i><i class="" style="left:359px;width:139px"><s class="wd" style="transform:scaleX(1.078)">Eastbound (inverse)</s></i><i class="" style="left:498px;width:139px"><s class="wd" style="transform:scaleX(1.051)">Combined</s></i><i class="" style="left:637px;width:119px"><s class="wd" style="transform:scaleX(1.094)">Westbound</s></i><i class="" style="left:783px;width:124px"><s class="wd" style="transform:scaleX(1.062)">Eastbound</s></i><i class="" style="left:934px;width:182px"><s class="wd" style="transform:scaleX(1.069)">Difference (Westb.-Eastb.)</s></i></div><div class="w" style="top:79px"><i class="" style="left:62px;width:125px"><s class="wd" style="transform:scaleX(1.154)">Date eff.</s></i><i class="" style="left:220px;width:58px"><s class="wd" style="transform:scaleX(1.151)">Total tpw</s></i><i class="" style="left:278px;width:40px"><s class="wd" style="transform:scaleX(1.048)">Min. TT</s></i><i class="" style="left:318px;width:41px"><s class="wd" style="transform:scaleX(0.923)">Avg. TT</s></i><i class="" style="left:359px;width:58px"><s class="wd" style="transform:scaleX(1.151)">Total tpw</s></i><i class="" style="left:417px;width:40px"><s class="wd" style="transform:scaleX(1.048)">Min. TT</s></i><i class="" style="left:457px;width:41px"><s class="wd" style="transform:scaleX(0.923)">Avg. TT</s></i><i class="" style="left:498px;width:58px"><s class="wd" style="transform:scaleX(1.151)">Total tpw</s></i><i class="" style="left:556px;width:40px"><s class="wd" style="transform:scaleX(1.048)">Min. TT</s></i><i class="" style="left:596px;width:41px"><s class="wd bd" style="transform:scaleX(0.915)">Avg. TT</s></i><i class="M rt3">1</i><i class="N rt3">2</i><i class="O rt3">3</i><i class="P rt3">4</i><i class="Q rt3">5</i><i class="R rt3">6</i><i class="S rt3">7</i><i class="U rt3">1</i><i class="V rt3">2</i><i class="W rt3">3</i><i class="X rt3">4</i><i class="Y rt3">5</i><i class="Z rt3">6</i><i class="AA rt3">7</i><i class="AC rt3">1</i><i class="AD rt3">2</i><i class="AE rt3">3</i><i class="AF rt3">4</i><i class="AG rt3">5</i><i class="AH rt3">6</i><i class="AI rt3">7</i><i class="rtw" style="left:756px;width:27px"><s class="wd" style="transform:scaleX(1.0)">SUM</s></i><i class="rtw" style="left:907px;width:27px"><s class="wd" style="transform:scaleX(1.0)">SUM</s></i><i class="rtw" style="left:1088px;width:27px"><s class="wd" style="transform:scaleX(1.0)">SUM</s></i></div>
<u style="left:637px;top:47px;width:479px;height:1px;background:#000"></u><u style="left:2px;top:63px;width:1114px;height:1px;background:#000"></u><u style="left:2px;top:95px;width:1114px;height:1px;background:#000"></u><u style="left:2px;top:63px;width:1px;height:803px;background:#000"></u><u style="left:187px;top:63px;width:1px;height:803px;background:#000"></u><u style="left:220px;top:63px;width:1px;height:803px;background:#000"></u><u style="left:359px;top:63px;width:1px;height:803px;background:#000"></u><u style="left:498px;top:63px;width:1px;height:803px;background:#000"></u><u style="left:756px;top:63px;width:1px;height:803px;background:#000"></u><u style="left:783px;top:63px;width:1px;height:803px;background:#000"></u><u style="left:907px;top:63px;width:1px;height:803px;background:#000"></u><u style="left:934px;top:63px;width:1px;height:803px;background:#000"></u><u style="left:1088px;top:79px;width:1px;height:787px;background:#000"></u><u style="left:1115px;top:47px;width:1px;height:819px;background:#000"></u><u style="left:0px;top:111px;width:1116px;height:1px;background:#a0a0a0"></u><u style="left:637px;top:0px;width:1px;height:866px;background:#9a9a9a"></u><u style="left:0px;top:143px;width:2px;height:17px;background:#ffc2cb"></u><u style="left:0px;top:415px;width:2px;height:17px;background:#ffc2cb"></u><u style="left:0px;top:639px;width:2px;height:17px;background:#ffc2cb"></u><u style="left:0px;top:655px;width:2px;height:17px;background:#ffc2cb"></u><u style="left:0px;top:863px;width:2px;height:17px;background:#ffc2cb"></u>
<p style="left:46px"><em></em></p><p style="left:171px"><em></em></p><p style="left:204px"><em></em></p><p style="left:262px"><em></em></p><p style="left:302px"><em></em></p><p style="left:343px"><em></em></p><p style="left:401px"><em></em></p><p style="left:441px"><em></em></p><p style="left:482px"><em></em></p><p style="left:540px"><em></em></p><p style="left:580px"><em></em></p><p style="left:621px"><em></em></p><p style="left:638px"><em></em></p><p style="left:655px"><em></em></p><p style="left:672px"><em></em></p><p style="left:689px"><em></em></p><p style="left:706px"><em></em></p><p style="left:723px"><em></em></p><p style="left:740px"><em></em></p><p style="left:767px"><em></em></p><p style="left:784px"><em></em></p><p style="left:806px"><em></em></p><p style="left:823px"><em></em></p><p style="left:840px"><em></em></p><p style="left:857px"><em></em></p><p style="left:874px"><em></em></p><p style="left:891px"><em></em></p><p style="left:918px"><em></em></p><p style="left:940px"><em></em></p><p style="left:962px"><em></em></p><p style="left:984px"><em></em></p><p style="left:1006px"><em></em></p><p style="left:1028px"><em></em></p><p style="left:1050px"><em></em></p><p style="left:1072px"><em></em></p><p style="left:1099px"><em></em></p>
</body></html>
